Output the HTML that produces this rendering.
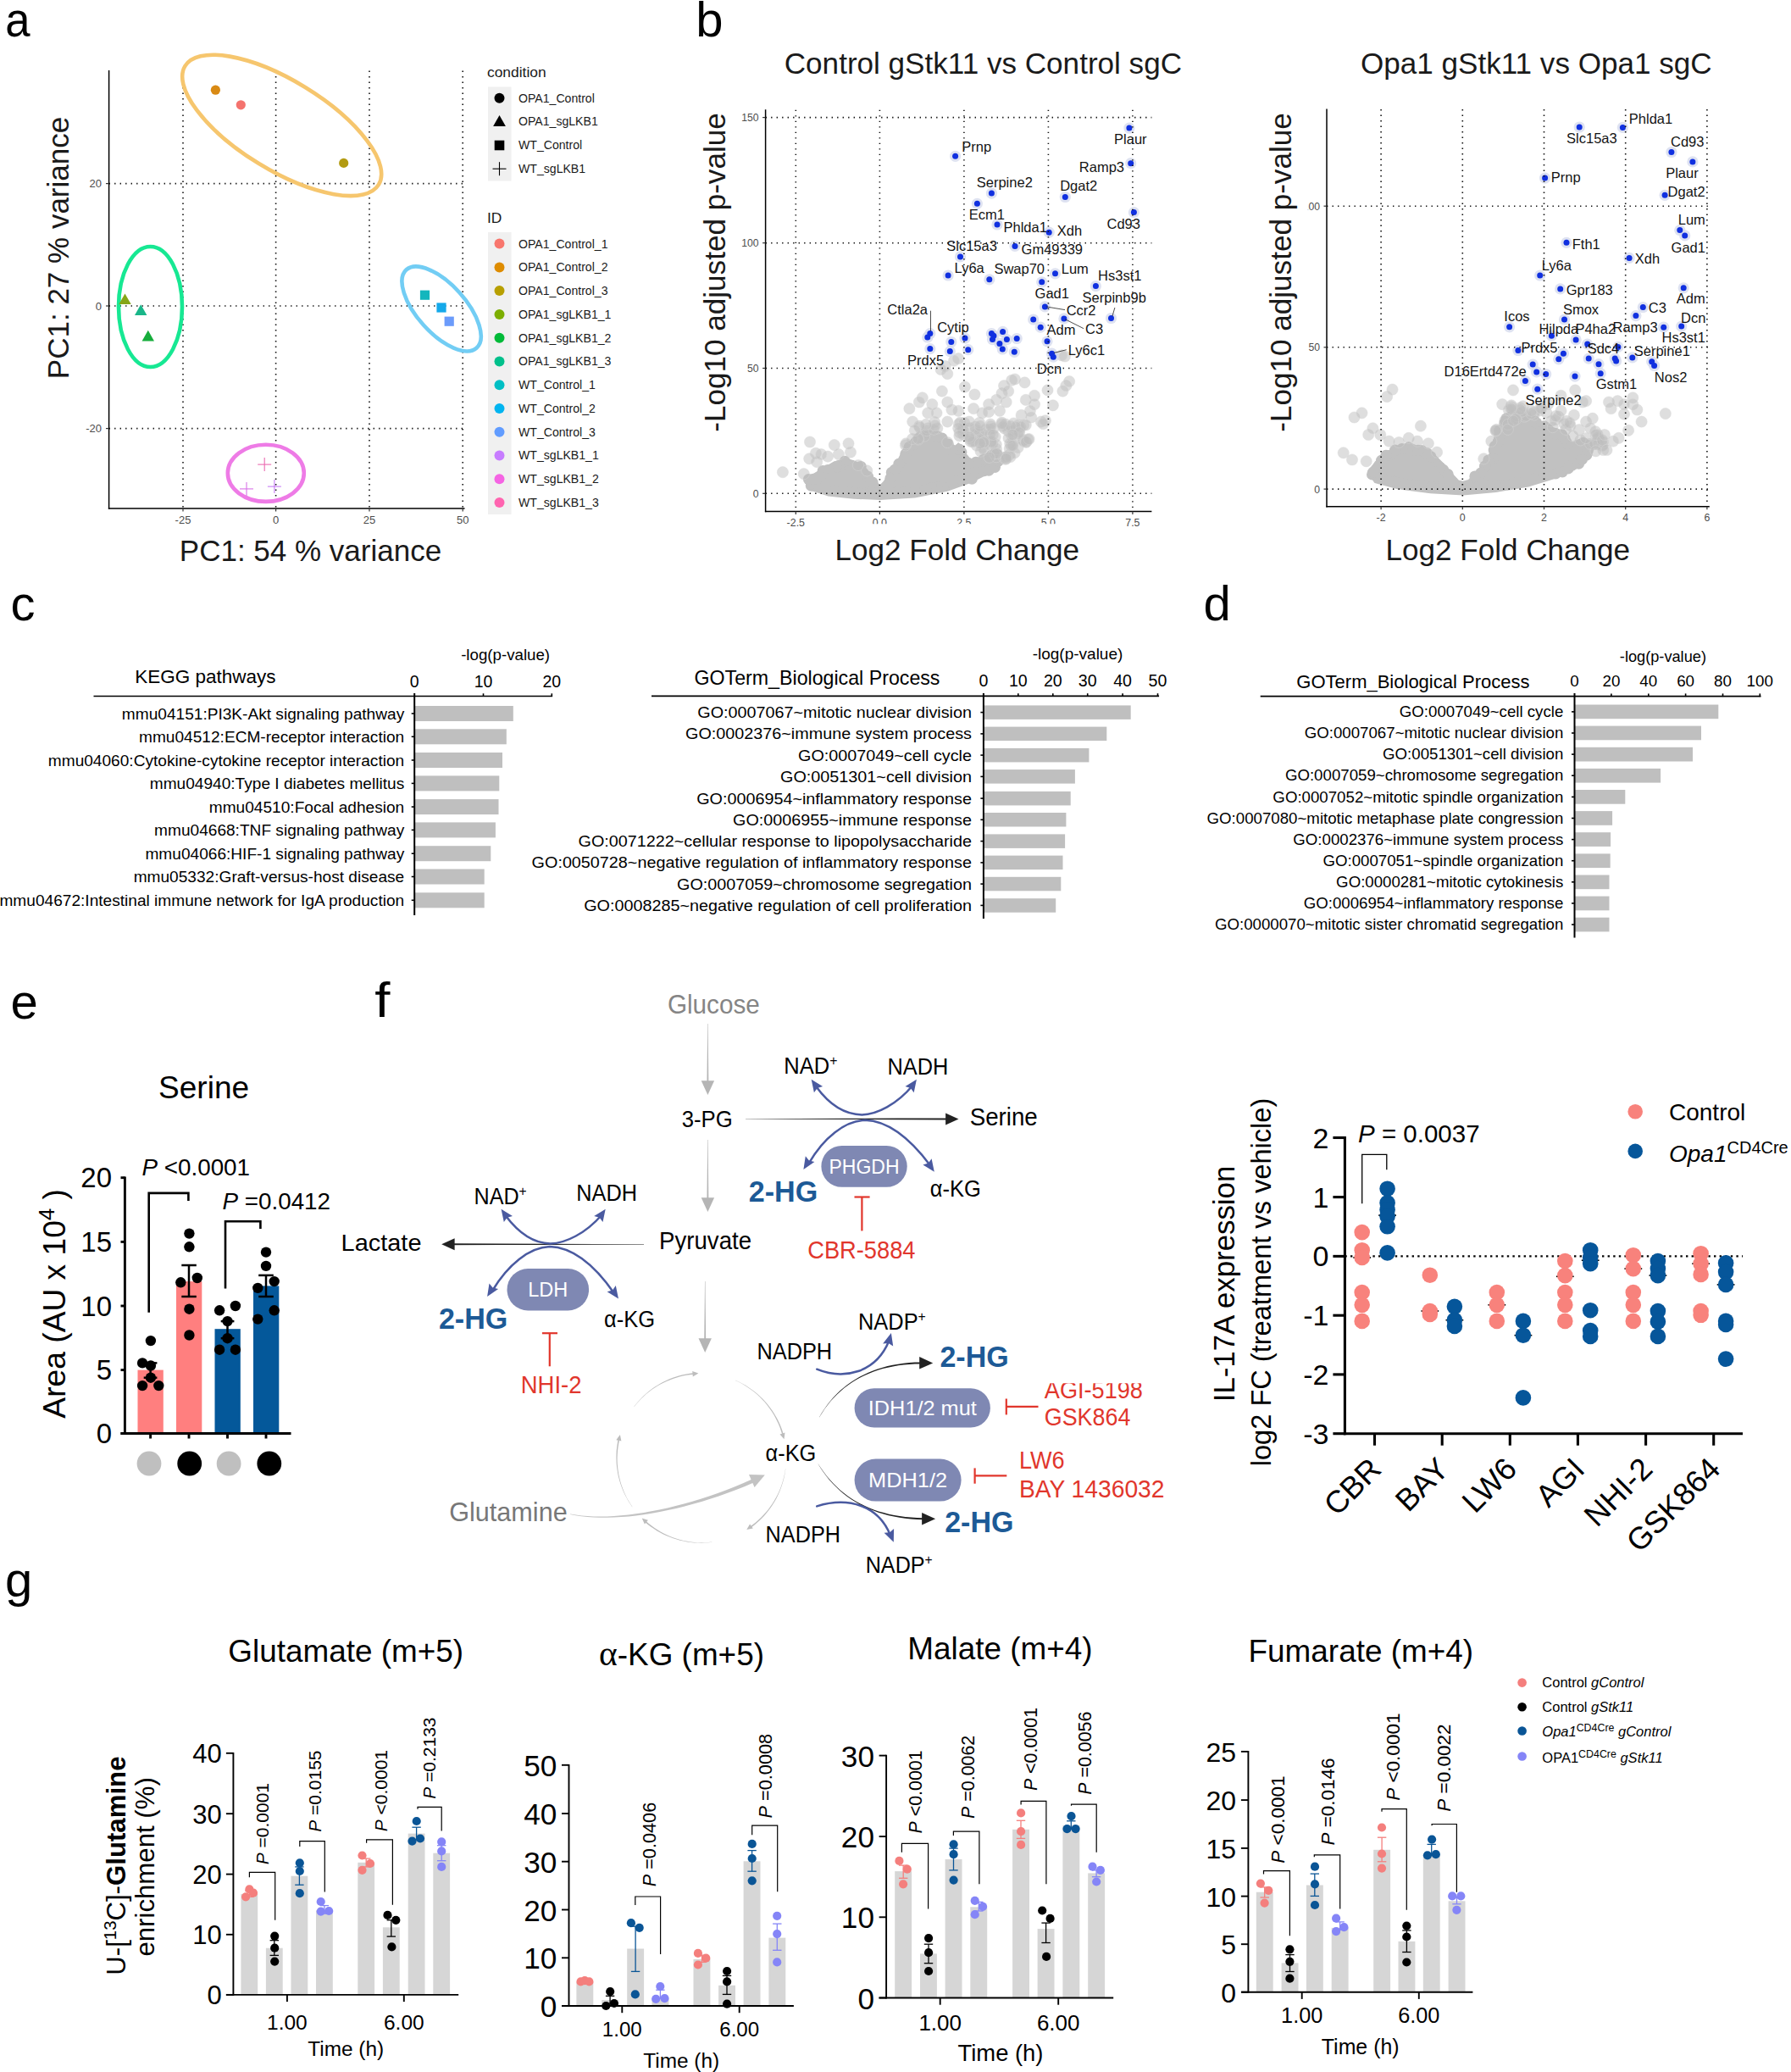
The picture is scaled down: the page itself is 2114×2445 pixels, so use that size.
<!DOCTYPE html>
<html lang="en"><head><meta charset="utf-8"><title>Figure</title>
<style>
html,body{margin:0;padding:0;background:#fff;}
body{width:2114px;height:2445px;overflow:hidden;}
svg{display:block;font-family:"Liberation Sans",Arial,Helvetica,sans-serif;}
svg text{white-space:pre;}
</style></head><body>
<svg width="2114" height="2445" viewBox="0 0 2114 2445">
<rect width="2114" height="2445" fill="#fff"/>
<g id="pa">
<text transform="translate(6.3 42.5) scale(0.92 1)" font-size="57.3">a</text>
<line x1="216" y1="83.5" x2="216" y2="600" stroke="#111" stroke-width="1.6" stroke-dasharray="1.4 5.1" stroke-linecap="butt"/>
<line x1="325.6" y1="83.5" x2="325.6" y2="600" stroke="#111" stroke-width="1.6" stroke-dasharray="1.4 5.1" stroke-linecap="butt"/>
<line x1="436" y1="83.5" x2="436" y2="600" stroke="#111" stroke-width="1.6" stroke-dasharray="1.4 5.1" stroke-linecap="butt"/>
<line x1="546.2" y1="83.5" x2="546.2" y2="600" stroke="#111" stroke-width="1.6" stroke-dasharray="1.4 5.1" stroke-linecap="butt"/>
<line x1="128.6" y1="216.6" x2="548.5" y2="216.6" stroke="#111" stroke-width="1.6" stroke-dasharray="1.4 5.1" stroke-linecap="butt"/>
<line x1="128.6" y1="361" x2="548.5" y2="361" stroke="#111" stroke-width="1.6" stroke-dasharray="1.4 5.1" stroke-linecap="butt"/>
<line x1="128.6" y1="505.6" x2="548.5" y2="505.6" stroke="#111" stroke-width="1.6" stroke-dasharray="1.4 5.1" stroke-linecap="butt"/>
<line x1="128.6" y1="83" x2="128.6" y2="600.7" stroke="#000" stroke-width="1.5"/>
<line x1="127.9" y1="600" x2="548.5" y2="600" stroke="#000" stroke-width="1.5"/>
<line x1="216" y1="600" x2="216" y2="603.5" stroke="#333" stroke-width="1.2"/>
<line x1="325.6" y1="600" x2="325.6" y2="603.5" stroke="#333" stroke-width="1.2"/>
<line x1="436" y1="600" x2="436" y2="603.5" stroke="#333" stroke-width="1.2"/>
<line x1="546.2" y1="600" x2="546.2" y2="603.5" stroke="#333" stroke-width="1.2"/>
<line x1="125" y1="216.6" x2="128.6" y2="216.6" stroke="#333" stroke-width="1.2"/>
<line x1="125" y1="361" x2="128.6" y2="361" stroke="#333" stroke-width="1.2"/>
<line x1="125" y1="505.6" x2="128.6" y2="505.6" stroke="#333" stroke-width="1.2"/>
<text x="120" y="221.2" font-size="13" text-anchor="end" fill="#4d4d4d">20</text>
<text x="120" y="365.6" font-size="13" text-anchor="end" fill="#4d4d4d">0</text>
<text x="120" y="510.2" font-size="13" text-anchor="end" fill="#4d4d4d">-20</text>
<text x="216" y="617.8" font-size="13" text-anchor="middle" fill="#4d4d4d">-25</text>
<text x="325.6" y="617.8" font-size="13" text-anchor="middle" fill="#4d4d4d">0</text>
<text x="436" y="617.8" font-size="13" text-anchor="middle" fill="#4d4d4d">25</text>
<text x="546.2" y="617.8" font-size="13" text-anchor="middle" fill="#4d4d4d">50</text>
<text x="366.5" y="662" font-size="35" text-anchor="middle" fill="#1a1a1a">PC1: 54 % variance</text>
<text transform="translate(81 292.5) rotate(-90)" font-size="35" text-anchor="middle" fill="#1a1a1a">PC1: 27 % variance</text>
<ellipse cx="332.7" cy="147.9" rx="134" ry="52.7" transform="rotate(31.5 332.7 147.9)" fill="none" stroke="#f6c66e" stroke-width="4.6"/>
<ellipse cx="177.5" cy="362" rx="37.5" ry="71" fill="none" stroke="#17e893" stroke-width="4.6"/>
<ellipse cx="521.1" cy="364.4" rx="62" ry="28.6" transform="rotate(48 521.1 364.4)" fill="none" stroke="#72cdf4" stroke-width="4.6"/>
<ellipse cx="313.8" cy="558.3" rx="45" ry="33.6" fill="none" stroke="#ee7be6" stroke-width="4.6"/>
<circle cx="254.4" cy="106.2" r="5.6" fill="#d98a14"/>
<circle cx="284.3" cy="123.8" r="5.6" fill="#f4736e"/>
<circle cx="405.7" cy="192.4" r="5.6" fill="#b39b12"/>
<path d="M147.5 346.5 L154.7 359.1 L140.3 359.1 Z" fill="#86a617"/>
<path d="M166.2 359.3 L173.4 371.9 L159 371.9 Z" fill="#19b689"/>
<path d="M174.8 389.8 L182 402.4 L167.6 402.4 Z" fill="#16ad3c"/>
<rect x="495.9" y="342.6" width="11.2" height="11.2" fill="#14b6bd"/>
<rect x="515.4" y="357.4" width="11.2" height="11.2" fill="#14a9ea"/>
<rect x="524.6" y="373.6" width="11.2" height="11.2" fill="#6b9bfb"/>
<line x1="304.2" y1="548.1" x2="320.2" y2="548.1" stroke="#ea6ab0" stroke-width="1.1"/>
<line x1="312.2" y1="540.1" x2="312.2" y2="556.1" stroke="#ea6ab0" stroke-width="1.1"/>
<line x1="283" y1="576.9" x2="299" y2="576.9" stroke="#d973e8" stroke-width="1.1"/>
<line x1="291" y1="568.9" x2="291" y2="584.9" stroke="#d973e8" stroke-width="1.1"/>
<line x1="315.9" y1="574.1" x2="331.9" y2="574.1" stroke="#c77cf5" stroke-width="1.1"/>
<line x1="323.9" y1="566.1" x2="323.9" y2="582.1" stroke="#c77cf5" stroke-width="1.1"/>
<text x="575" y="91" font-size="17.4" fill="#1a1a1a">condition</text>
<rect x="576" y="102.5" width="27.5" height="111" fill="#f0f0f0"/>
<circle cx="589.5" cy="115.7" r="6" fill="#000"/>
<path d="M589.5 135.9 L596.9 148.9 L582.1 148.9 Z" fill="#000"/>
<rect x="583.7" y="165.7" width="11.6" height="11.6" fill="#000"/>
<line x1="581.5" y1="199.2" x2="597.5" y2="199.2" stroke="#000" stroke-width="1.1"/>
<line x1="589.5" y1="191.2" x2="589.5" y2="207.2" stroke="#000" stroke-width="1.1"/>
<text x="612" y="120.6" font-size="14.1" fill="#1a1a1a">OPA1_Control</text>
<text x="612" y="148.3" font-size="14.1" fill="#1a1a1a">OPA1_sgLKB1</text>
<text x="612" y="176.4" font-size="14.1" fill="#1a1a1a">WT_Control</text>
<text x="612" y="204.1" font-size="14.1" fill="#1a1a1a">WT_sgLKB1</text>
<text x="575" y="262.5" font-size="17.4" fill="#1a1a1a">ID</text>
<rect x="576" y="274" width="27.5" height="333" fill="#f0f0f0"/>
<circle cx="589.5" cy="287.6" r="6" fill="#f8766d"/>
<text x="612" y="292.5" font-size="14.1" fill="#1a1a1a">OPA1_Control_1</text>
<circle cx="589.5" cy="315.4" r="6" fill="#de8c00"/>
<text x="612" y="320.3" font-size="14.1" fill="#1a1a1a">OPA1_Control_2</text>
<circle cx="589.5" cy="343.1" r="6" fill="#b79f00"/>
<text x="612" y="348" font-size="14.1" fill="#1a1a1a">OPA1_Control_3</text>
<circle cx="589.5" cy="370.9" r="6" fill="#7cae00"/>
<text x="612" y="375.8" font-size="14.1" fill="#1a1a1a">OPA1_sgLKB1_1</text>
<circle cx="589.5" cy="398.7" r="6" fill="#00ba38"/>
<text x="612" y="403.6" font-size="14.1" fill="#1a1a1a">OPA1_sgLKB1_2</text>
<circle cx="589.5" cy="426.5" r="6" fill="#00c08b"/>
<text x="612" y="431.4" font-size="14.1" fill="#1a1a1a">OPA1_sgLKB1_3</text>
<circle cx="589.5" cy="454.2" r="6" fill="#00bfc4"/>
<text x="612" y="459.1" font-size="14.1" fill="#1a1a1a">WT_Control_1</text>
<circle cx="589.5" cy="482" r="6" fill="#00b4f0"/>
<text x="612" y="486.9" font-size="14.1" fill="#1a1a1a">WT_Control_2</text>
<circle cx="589.5" cy="509.8" r="6" fill="#619cff"/>
<text x="612" y="514.7" font-size="14.1" fill="#1a1a1a">WT_Control_3</text>
<circle cx="589.5" cy="537.5" r="6" fill="#c77cff"/>
<text x="612" y="542.4" font-size="14.1" fill="#1a1a1a">WT_sgLKB1_1</text>
<circle cx="589.5" cy="565.3" r="6" fill="#f564e3"/>
<text x="612" y="570.2" font-size="14.1" fill="#1a1a1a">WT_sgLKB1_2</text>
<circle cx="589.5" cy="593.1" r="6" fill="#ff64b0"/>
<text x="612" y="598" font-size="14.1" fill="#1a1a1a">WT_sgLKB1_3</text>
</g>
<g id="pb">
<text x="821.3" y="43" font-size="58">b</text>
<path d="M950.1 565.7 L955.2 577.2 L977.1 584.4 L1007.9 587.7 L1038.7 589 L1079.8 586.5 L1118.3 578.8 L1146.6 568.5 L1167.1 558.2 L1181.2 549 L1182.5 538.7 L1177.4 531 L1169.7 534.8 L1156.8 540 L1146.6 543.8 L1138.9 534.8 L1131.2 523.3 L1126 529.7 L1115.7 516.9 L1105.5 509.9 L1092.6 509.9 L1079.8 515.1 L1066.9 529.7 L1059.2 545.1 L1051.5 555.4 L1043.8 568.2 L1038.7 573.6 L1033.6 568.2 L1025.9 558 L1018.1 549 L1007.9 544.3 L997.6 541.8 L984.8 545.4 L971.9 552.8 L959.1 560.5Z" fill="#c1c1c1" stroke="#c1c1c1" stroke-width="2" stroke-linejoin="round"/>
<g fill="#c1c1c1"><circle cx="954.5" cy="565.6" r="6.6"/><circle cx="957.4" cy="573.2" r="6.6"/><circle cx="959.5" cy="571.7" r="6.6"/><circle cx="967.1" cy="574.2" r="6.6"/><circle cx="972.6" cy="576" r="6.6"/><circle cx="979.7" cy="578.1" r="6.6"/><circle cx="986.3" cy="578.8" r="6.6"/><circle cx="993" cy="579.5" r="6.6"/><circle cx="996.6" cy="579.9" r="6.6"/><circle cx="1003.5" cy="580.6" r="6.6"/><circle cx="1008.5" cy="581.2" r="6.6"/><circle cx="1017.3" cy="581.5" r="6.6"/><circle cx="1023" cy="581.8" r="6.6"/><circle cx="1026.8" cy="581.9" r="6.6"/><circle cx="1036.4" cy="582.3" r="6.6"/><circle cx="1042.2" cy="582.2" r="6.6"/><circle cx="1047.8" cy="581.8" r="6.6"/><circle cx="1054.5" cy="581.4" r="6.6"/><circle cx="1059.5" cy="581.1" r="6.6"/><circle cx="1065.7" cy="580.7" r="6.6"/><circle cx="1074.7" cy="580.2" r="6.6"/><circle cx="1078.7" cy="579.9" r="6.6"/><circle cx="1085.6" cy="578.6" r="6.6"/><circle cx="1092.3" cy="577.2" r="6.6"/><circle cx="1097.9" cy="576.1" r="6.6"/><circle cx="1106" cy="574.5" r="6.6"/><circle cx="1112.3" cy="573.2" r="6.6"/><circle cx="1118.9" cy="571.5" r="6.6"/><circle cx="1123.5" cy="569.9" r="6.6"/><circle cx="1129.5" cy="567.7" r="6.6"/><circle cx="1134.7" cy="565.8" r="6.6"/><circle cx="1140.9" cy="563.5" r="6.6"/><circle cx="1147.2" cy="565.1" r="6.6"/><circle cx="1154.8" cy="557.7" r="6.6"/><circle cx="1161.6" cy="555.7" r="6.6"/><circle cx="1167.1" cy="555.2" r="6.6"/><circle cx="1174.4" cy="551.3" r="6.6"/><circle cx="1178.6" cy="543.8" r="6.6"/><circle cx="1177.2" cy="536.6" r="6.6"/><circle cx="1175.3" cy="538" r="6.6"/><circle cx="1170.6" cy="537.1" r="6.6"/><circle cx="1161.1" cy="542.2" r="6.6"/><circle cx="1151.9" cy="545.3" r="6.6"/><circle cx="1142.9" cy="546.3" r="6.6"/><circle cx="1134.8" cy="533.6" r="6.6"/><circle cx="1132.3" cy="530.4" r="6.6"/><circle cx="1132" cy="530.1" r="6.6"/><circle cx="1123.6" cy="530.9" r="6.6"/><circle cx="1119.2" cy="524" r="6.6"/><circle cx="1112" cy="517.1" r="6.6"/><circle cx="1106.9" cy="515.1" r="6.6"/><circle cx="1104.7" cy="514.7" r="6.6"/><circle cx="1098.5" cy="514.3" r="6.6"/><circle cx="1093.4" cy="513.3" r="6.6"/><circle cx="1086.4" cy="515.3" r="6.6"/><circle cx="1081.1" cy="521.3" r="6.6"/><circle cx="1078.8" cy="524.4" r="6.6"/><circle cx="1073.1" cy="527.6" r="6.6"/><circle cx="1068.9" cy="535.6" r="6.6"/><circle cx="1068.2" cy="540.5" r="6.6"/><circle cx="1060.9" cy="547.4" r="6.6"/><circle cx="1056" cy="554.4" r="6.6"/><circle cx="1052.4" cy="557.5" r="6.6"/><circle cx="1051" cy="564.3" r="6.6"/><circle cx="1047.9" cy="573.6" r="6.6"/><circle cx="1032.1" cy="576.2" r="6.6"/><circle cx="1029.9" cy="569.2" r="6.6"/><circle cx="1024.5" cy="562.3" r="6.6"/><circle cx="1019.1" cy="558.4" r="6.6"/><circle cx="1016.1" cy="550.5" r="6.6"/><circle cx="1001" cy="548" r="6.6"/><circle cx="997.3" cy="544.3" r="6.6"/><circle cx="989.9" cy="549.9" r="6.6"/><circle cx="986.9" cy="550.8" r="6.6"/><circle cx="977.1" cy="554.7" r="6.6"/><circle cx="971.3" cy="555.5" r="6.6"/><circle cx="968.3" cy="561.8" r="6.6"/><circle cx="960.1" cy="565.3" r="6.6"/></g>
<g fill="#bdbdbd" fill-opacity="0.5" stroke="#d9d9d9" stroke-opacity="0.55" stroke-width="0.8">
<circle cx="1154.8" cy="511.2" r="6.6"/><circle cx="1157.5" cy="510.6" r="6.6"/><circle cx="1203.4" cy="507" r="6.6"/><circle cx="1131.9" cy="500.4" r="6.6"/><circle cx="1091.1" cy="514.6" r="6.6"/><circle cx="1151.1" cy="503.7" r="6.6"/><circle cx="1169.1" cy="524.6" r="6.6"/><circle cx="1176.1" cy="539.2" r="6.6"/><circle cx="1176.1" cy="530.1" r="6.6"/><circle cx="1184.6" cy="539.9" r="6.6"/><circle cx="1195.2" cy="524.1" r="6.6"/><circle cx="1159.1" cy="515.3" r="6.6"/><circle cx="1152.7" cy="525.7" r="6.6"/><circle cx="1174.7" cy="515.6" r="6.6"/><circle cx="1175.8" cy="524.5" r="6.6"/><circle cx="1068.9" cy="525.4" r="6.6"/><circle cx="1137.3" cy="508.2" r="6.6"/><circle cx="1170.2" cy="520.6" r="6.6"/><circle cx="1103.1" cy="498.1" r="6.6"/><circle cx="1095.1" cy="505.4" r="6.6"/><circle cx="1201.6" cy="528.1" r="6.6"/><circle cx="1186.5" cy="539.9" r="6.6"/><circle cx="1197.8" cy="515.4" r="6.6"/><circle cx="1152.7" cy="512.2" r="6.6"/><circle cx="1191.2" cy="536.8" r="6.6"/><circle cx="1106.3" cy="505.4" r="6.6"/><circle cx="1132.7" cy="510.3" r="6.6"/><circle cx="1159.2" cy="520.4" r="6.6"/><circle cx="1213.2" cy="518.5" r="6.6"/><circle cx="1196.6" cy="499.5" r="6.6"/><circle cx="1171.8" cy="524" r="6.6"/><circle cx="1133.3" cy="498.7" r="6.6"/><circle cx="1190.1" cy="508.6" r="6.6"/><circle cx="1159.7" cy="518.2" r="6.6"/><circle cx="1159.8" cy="527.9" r="6.6"/><circle cx="1186.7" cy="541.9" r="6.6"/><circle cx="1168.1" cy="506.8" r="6.6"/><circle cx="1136.4" cy="505.9" r="6.6"/><circle cx="1172.6" cy="505.9" r="6.6"/><circle cx="1170" cy="521.7" r="6.6"/><circle cx="1157.5" cy="532.6" r="6.6"/><circle cx="1201.7" cy="501.6" r="6.6"/><circle cx="1084.1" cy="518.6" r="6.6"/><circle cx="1197.6" cy="534.4" r="6.6"/><circle cx="1207.5" cy="519" r="6.6"/><circle cx="1163.1" cy="507.1" r="6.6"/><circle cx="1173.8" cy="535.4" r="6.6"/><circle cx="1161.6" cy="530.8" r="6.6"/><circle cx="1194.1" cy="513.7" r="6.6"/><circle cx="1076.9" cy="518" r="6.6"/><circle cx="1138.2" cy="498.9" r="6.6"/><circle cx="1187" cy="500.6" r="6.6"/><circle cx="1185.6" cy="505.6" r="6.6"/><circle cx="1085.7" cy="504.5" r="6.6"/><circle cx="1191.7" cy="529.5" r="6.6"/><circle cx="1207.7" cy="520.4" r="6.6"/><circle cx="1208.2" cy="501.6" r="6.6"/><circle cx="1161.2" cy="521.8" r="6.6"/><circle cx="1192.2" cy="523.5" r="6.6"/><circle cx="1192.5" cy="539.2" r="6.6"/><circle cx="1211.1" cy="521.8" r="6.6"/><circle cx="1151.2" cy="506.9" r="6.6"/><circle cx="1145.6" cy="520.9" r="6.6"/><circle cx="1156.1" cy="498.9" r="6.6"/><circle cx="1211.3" cy="521.5" r="6.6"/><circle cx="1149.7" cy="520.3" r="6.6"/><circle cx="1169.1" cy="500.6" r="6.6"/><circle cx="1146" cy="516.7" r="6.6"/><circle cx="1083.6" cy="517.6" r="6.6"/><circle cx="1188" cy="539.2" r="6.6"/><circle cx="1136.6" cy="512.3" r="6.6"/><circle cx="1204.6" cy="503.6" r="6.6"/><circle cx="1182.5" cy="498.7" r="6.6"/><circle cx="1093.8" cy="508.1" r="6.6"/><circle cx="1168.5" cy="512.5" r="6.6"/><circle cx="1102.3" cy="506.7" r="6.6"/><circle cx="1144.7" cy="517.8" r="6.6"/><circle cx="1144.6" cy="505" r="6.6"/><circle cx="1161.1" cy="522.1" r="6.6"/><circle cx="1193.4" cy="525.9" r="6.6"/><circle cx="1194.2" cy="508.4" r="6.6"/><circle cx="1176.6" cy="535.1" r="6.6"/><circle cx="1201.2" cy="512.2" r="6.6"/><circle cx="1198.9" cy="503.8" r="6.6"/><circle cx="1103.7" cy="502.1" r="6.6"/><circle cx="1190.5" cy="517.1" r="6.6"/><circle cx="1184.1" cy="503.4" r="6.6"/><circle cx="1167.8" cy="539.7" r="6.6"/><circle cx="1093" cy="500.9" r="6.6"/><circle cx="1148" cy="521.4" r="6.6"/><circle cx="923.9" cy="557.2" r="6.6"/><circle cx="948.8" cy="559.2" r="6.6"/><circle cx="956" cy="521.5" r="6.6"/><circle cx="962.9" cy="534.8" r="6.6"/><circle cx="964.2" cy="545.1" r="6.6"/><circle cx="984.8" cy="525.1" r="6.6"/><circle cx="989.9" cy="536.1" r="6.6"/><circle cx="1001.5" cy="523.3" r="6.6"/><circle cx="1004" cy="533.6" r="6.6"/><circle cx="977.1" cy="538.7" r="6.6"/><circle cx="1013" cy="549" r="6.6"/><circle cx="1023.3" cy="555.4" r="6.6"/><circle cx="969.3" cy="536.1" r="6.6"/><circle cx="955.2" cy="541.3" r="6.6"/><circle cx="1073.4" cy="482.2" r="6.6"/><circle cx="1077.2" cy="497.6" r="6.6"/><circle cx="1088.8" cy="469.3" r="6.6"/><circle cx="1095.2" cy="487.3" r="6.6"/><circle cx="1084.9" cy="502.7" r="6.6"/><circle cx="1111.9" cy="461.6" r="6.6"/><circle cx="1118.3" cy="474.5" r="6.6"/><circle cx="1123.4" cy="483.5" r="6.6"/><circle cx="1118.3" cy="497.6" r="6.6"/><circle cx="1138.9" cy="456.5" r="6.6"/><circle cx="1150.4" cy="465.5" r="6.6"/><circle cx="1149.1" cy="482.2" r="6.6"/><circle cx="1144" cy="497.6" r="6.6"/><circle cx="1167.1" cy="477.1" r="6.6"/><circle cx="1167.1" cy="486" r="6.6"/><circle cx="1176.1" cy="471.9" r="6.6"/><circle cx="1182.5" cy="464.2" r="6.6"/><circle cx="1185.1" cy="455.2" r="6.6"/><circle cx="1194.1" cy="448.8" r="6.6"/><circle cx="1197.9" cy="447.5" r="6.6"/><circle cx="1209.5" cy="451.4" r="6.6"/><circle cx="1190.2" cy="461.6" r="6.6"/><circle cx="1187.7" cy="474.5" r="6.6"/><circle cx="1180" cy="484.8" r="6.6"/><circle cx="1205.6" cy="489.9" r="6.6"/><circle cx="1210.8" cy="471.9" r="6.6"/><circle cx="1221" cy="466.8" r="6.6"/><circle cx="1221" cy="477.1" r="6.6"/><circle cx="1215.9" cy="484.8" r="6.6"/><circle cx="1217.2" cy="492.5" r="6.6"/><circle cx="1210.8" cy="501.5" r="6.6"/><circle cx="1228.8" cy="497.6" r="6.6"/><circle cx="1233.9" cy="496.3" r="6.6"/><circle cx="1236.5" cy="460.4" r="6.6"/><circle cx="1242.9" cy="478.3" r="6.6"/><circle cx="1254.4" cy="461.6" r="6.6"/><circle cx="1258.3" cy="455.2" r="6.6"/><circle cx="1262.1" cy="450.1" r="6.6"/><circle cx="1257" cy="420.5" r="6.6"/><circle cx="1131.2" cy="423.1" r="6.6"/><circle cx="1118.3" cy="441.1" r="6.6"/><circle cx="1115.7" cy="432.1" r="6.6"/><circle cx="1214.6" cy="518.1" r="6.6"/><circle cx="1195.4" cy="525.9" r="6.6"/><circle cx="1187.7" cy="541.3" r="6.6"/><circle cx="1203.1" cy="510.4" r="6.6"/><circle cx="1192.8" cy="502.7" r="6.6"/><circle cx="1182.5" cy="500.2" r="6.6"/><circle cx="1169.7" cy="502.7" r="6.6"/><circle cx="1156.8" cy="502.7" r="6.6"/><circle cx="1156.8" cy="523.3" r="6.6"/><circle cx="1144" cy="515.6" r="6.6"/><circle cx="1131.2" cy="505.3" r="6.6"/><circle cx="1132.4" cy="514.3" r="6.6"/><circle cx="1118.3" cy="522" r="6.6"/><circle cx="1069.5" cy="523.3" r="6.6"/><circle cx="1079.8" cy="507.9" r="6.6"/><circle cx="1100.3" cy="477.1" r="6.6"/><circle cx="1105.5" cy="487.3" r="6.6"/><circle cx="1131.2" cy="484.8" r="6.6"/><circle cx="1159.4" cy="487.3" r="6.6"/><circle cx="1172.2" cy="513" r="6.6"/><circle cx="1195.4" cy="513" r="6.6"/><circle cx="1231.3" cy="500.2" r="6.6"/><circle cx="1084.9" cy="474.5" r="6.6"/><circle cx="1253.2" cy="419.3" r="6.6"/><circle cx="1126" cy="425.7" r="6.6"/><circle cx="1110.6" cy="436" r="6.6"/>
</g>
<g fill="#d3d8ec" fill-opacity="0.75">
<circle cx="1332.9" cy="151.1" r="6.6"/><circle cx="1334.7" cy="192.7" r="6.6"/><circle cx="1127.6" cy="184.3" r="6.6"/><circle cx="1170.4" cy="228.1" r="6.6"/><circle cx="1153.4" cy="240.3" r="6.6"/><circle cx="1257.3" cy="232.5" r="6.6"/><circle cx="1338.4" cy="250.6" r="6.6"/><circle cx="1177" cy="265" r="6.6"/><circle cx="1238.2" cy="274.2" r="6.6"/><circle cx="1198" cy="290.4" r="6.6"/><circle cx="1133.5" cy="302.9" r="6.6"/><circle cx="1119.1" cy="325" r="6.6"/><circle cx="1167.8" cy="329.8" r="6.6"/><circle cx="1245.5" cy="322.8" r="6.6"/><circle cx="1229.7" cy="332.8" r="6.6"/><circle cx="1293.4" cy="337.6" r="6.6"/><circle cx="1233.4" cy="361.9" r="6.6"/><circle cx="1311.5" cy="375.5" r="6.6"/><circle cx="1255.9" cy="375.9" r="6.6"/><circle cx="1228.2" cy="386.2" r="6.6"/><circle cx="1219.7" cy="377" r="6.6"/><circle cx="1097.8" cy="393.6" r="6.6"/><circle cx="1094.8" cy="398" r="6.6"/><circle cx="1122.8" cy="403.5" r="6.6"/><circle cx="1139" cy="399.1" r="6.6"/><circle cx="1097.8" cy="411.6" r="6.6"/><circle cx="1121.3" cy="414.6" r="6.6"/><circle cx="1142.7" cy="412.7" r="6.6"/><circle cx="1170.4" cy="393.6" r="6.6"/><circle cx="1172.9" cy="396.2" r="6.6"/><circle cx="1183.6" cy="391.4" r="6.6"/><circle cx="1171.5" cy="400.6" r="6.6"/><circle cx="1188.4" cy="400.6" r="6.6"/><circle cx="1200.2" cy="399.5" r="6.6"/><circle cx="1179.9" cy="405.4" r="6.6"/><circle cx="1183.3" cy="412" r="6.6"/><circle cx="1197.3" cy="415.3" r="6.6"/><circle cx="1236" cy="402.8" r="6.6"/><circle cx="1241.5" cy="417.2" r="6.6"/><circle cx="1243.3" cy="421.2" r="6.6"/>
</g>
<g fill="#1030e0">
<circle cx="1332.9" cy="151.1" r="3.5"/><circle cx="1334.7" cy="192.7" r="3.5"/><circle cx="1127.6" cy="184.3" r="3.5"/><circle cx="1170.4" cy="228.1" r="3.5"/><circle cx="1153.4" cy="240.3" r="3.5"/><circle cx="1257.3" cy="232.5" r="3.5"/><circle cx="1338.4" cy="250.6" r="3.5"/><circle cx="1177" cy="265" r="3.5"/><circle cx="1238.2" cy="274.2" r="3.5"/><circle cx="1198" cy="290.4" r="3.5"/><circle cx="1133.5" cy="302.9" r="3.5"/><circle cx="1119.1" cy="325" r="3.5"/><circle cx="1167.8" cy="329.8" r="3.5"/><circle cx="1245.5" cy="322.8" r="3.5"/><circle cx="1229.7" cy="332.8" r="3.5"/><circle cx="1293.4" cy="337.6" r="3.5"/><circle cx="1233.4" cy="361.9" r="3.5"/><circle cx="1311.5" cy="375.5" r="3.5"/><circle cx="1255.9" cy="375.9" r="3.5"/><circle cx="1228.2" cy="386.2" r="3.5"/><circle cx="1219.7" cy="377" r="3.5"/><circle cx="1097.8" cy="393.6" r="3.5"/><circle cx="1094.8" cy="398" r="3.5"/><circle cx="1122.8" cy="403.5" r="3.5"/><circle cx="1139" cy="399.1" r="3.5"/><circle cx="1097.8" cy="411.6" r="3.5"/><circle cx="1121.3" cy="414.6" r="3.5"/><circle cx="1142.7" cy="412.7" r="3.5"/><circle cx="1170.4" cy="393.6" r="3.5"/><circle cx="1172.9" cy="396.2" r="3.5"/><circle cx="1183.6" cy="391.4" r="3.5"/><circle cx="1171.5" cy="400.6" r="3.5"/><circle cx="1188.4" cy="400.6" r="3.5"/><circle cx="1200.2" cy="399.5" r="3.5"/><circle cx="1179.9" cy="405.4" r="3.5"/><circle cx="1183.3" cy="412" r="3.5"/><circle cx="1197.3" cy="415.3" r="3.5"/><circle cx="1236" cy="402.8" r="3.5"/><circle cx="1241.5" cy="417.2" r="3.5"/><circle cx="1243.3" cy="421.2" r="3.5"/>
</g>
<line x1="1098.5" y1="366.7" x2="1098.5" y2="390.6" stroke="#222" stroke-width="0.8"/>
<line x1="1234.8" y1="361.9" x2="1257" y2="365.6" stroke="#222" stroke-width="0.8"/>
<line x1="1257" y1="376.6" x2="1279.1" y2="387.7" stroke="#222" stroke-width="0.8"/>
<line x1="1244.1" y1="416.4" x2="1258.8" y2="412.7" stroke="#222" stroke-width="0.8"/>
<line x1="1315.9" y1="363" x2="1313" y2="372.9" stroke="#222" stroke-width="0.8"/>
<g font-size="16.5" text-anchor="middle" fill="#141414">
<text x="1334.3" y="170.1">Plaur</text><text x="1152.7" y="178.9">Prnp</text><text x="1300.4" y="203.2">Ramp3</text><text x="1185.8" y="220.9">Serpine2</text><text x="1273.2" y="225.3">Dgat2</text><text x="1164.8" y="258.5">Ecm1</text><text x="1210.2" y="273.6">Phlda1</text><text x="1262.5" y="277.7">Xdh</text><text x="1326.2" y="269.6">Cd93</text><text x="1147.1" y="295.7">Slc15a3</text><text x="1241.8" y="300.1">Gm49339</text><text x="1144.2" y="322.3">Ly6a</text><text x="1203.2" y="323.4">Swap70</text><text x="1268.8" y="323">Lum</text><text x="1321.8" y="331.1">Hs3st1</text><text x="1241.8" y="352.1">Gad1</text><text x="1315.2" y="357.3">Serpinb9b</text><text x="1071.2" y="370.5">Ctla2a</text><text x="1276.1" y="372.4">Ccr2</text><text x="1125" y="392.3">Cytip</text><text x="1252.5" y="395.2">Adm</text><text x="1291.6" y="394.1">C3</text><text x="1282.4" y="418.8">Ly6c1</text><text x="1092.6" y="431.3">Prdx5</text><text x="1238.5" y="440.9">Dcn</text>
</g>
<line x1="939.3" y1="129.7" x2="939.3" y2="603.6" stroke="#111" stroke-width="1.6" stroke-dasharray="1.4 5.1"/>
<line x1="1038.4" y1="129.7" x2="1038.4" y2="603.6" stroke="#111" stroke-width="1.6" stroke-dasharray="1.4 5.1"/>
<line x1="1137.9" y1="129.7" x2="1137.9" y2="603.6" stroke="#111" stroke-width="1.6" stroke-dasharray="1.4 5.1"/>
<line x1="1237.4" y1="129.7" x2="1237.4" y2="603.6" stroke="#111" stroke-width="1.6" stroke-dasharray="1.4 5.1"/>
<line x1="1336.9" y1="129.7" x2="1336.9" y2="603.6" stroke="#111" stroke-width="1.6" stroke-dasharray="1.4 5.1"/>
<line x1="903.6" y1="138.6" x2="1359.4" y2="138.6" stroke="#111" stroke-width="1.6" stroke-dasharray="1.4 5.1"/>
<line x1="903.6" y1="286.7" x2="1359.4" y2="286.7" stroke="#111" stroke-width="1.6" stroke-dasharray="1.4 5.1"/>
<line x1="903.6" y1="434.5" x2="1359.4" y2="434.5" stroke="#111" stroke-width="1.6" stroke-dasharray="1.4 5.1"/>
<line x1="903.6" y1="582.3" x2="1359.4" y2="582.3" stroke="#111" stroke-width="1.6" stroke-dasharray="1.4 5.1"/>
<line x1="903.6" y1="129.2" x2="903.6" y2="604.3" stroke="#000" stroke-width="1.5"/>
<line x1="902.9" y1="603.6" x2="1359.4" y2="603.6" stroke="#000" stroke-width="1.5"/>
<line x1="939.3" y1="603.6" x2="939.3" y2="607.1" stroke="#333" stroke-width="1.2"/>
<line x1="1038.4" y1="603.6" x2="1038.4" y2="607.1" stroke="#333" stroke-width="1.2"/>
<line x1="1137.9" y1="603.6" x2="1137.9" y2="607.1" stroke="#333" stroke-width="1.2"/>
<line x1="1237.4" y1="603.6" x2="1237.4" y2="607.1" stroke="#333" stroke-width="1.2"/>
<line x1="1336.9" y1="603.6" x2="1336.9" y2="607.1" stroke="#333" stroke-width="1.2"/>
<line x1="900.1" y1="138.6" x2="903.6" y2="138.6" stroke="#333" stroke-width="1.2"/>
<line x1="900.1" y1="286.7" x2="903.6" y2="286.7" stroke="#333" stroke-width="1.2"/>
<line x1="900.1" y1="434.5" x2="903.6" y2="434.5" stroke="#333" stroke-width="1.2"/>
<line x1="900.1" y1="582.3" x2="903.6" y2="582.3" stroke="#333" stroke-width="1.2"/>
<clipPath id="clipy800"><rect x="863.6" y="100" width="40" height="520"/></clipPath>
<text x="895.6" y="143" font-size="12.2" text-anchor="end" fill="#4d4d4d" clip-path="url(#clipy800)">150</text>
<text x="895.6" y="291.1" font-size="12.2" text-anchor="end" fill="#4d4d4d" clip-path="url(#clipy800)">100</text>
<text x="895.6" y="438.9" font-size="12.2" text-anchor="end" fill="#4d4d4d" clip-path="url(#clipy800)">50</text>
<text x="895.6" y="586.7" font-size="12.2" text-anchor="end" fill="#4d4d4d" clip-path="url(#clipy800)">0</text>
<clipPath id="clip800"><rect x="863.6" y="603.6" width="600" height="14.7"/></clipPath>
<text x="939.3" y="620.6" font-size="12.4" text-anchor="middle" fill="#4d4d4d">-2.5</text>
<text x="1038.4" y="620.6" font-size="12.4" text-anchor="middle" fill="#4d4d4d" clip-path="url(#clip800)">0.0</text>
<text x="1137.9" y="620.6" font-size="12.4" text-anchor="middle" fill="#4d4d4d" clip-path="url(#clip800)">2.5</text>
<text x="1237.4" y="620.6" font-size="12.4" text-anchor="middle" fill="#4d4d4d" clip-path="url(#clip800)">5.0</text>
<text x="1336.9" y="620.6" font-size="12.4" text-anchor="middle" fill="#4d4d4d">7.5</text>
<text x="1160.4" y="87.2" font-size="35.1" text-anchor="middle" fill="#1a1a1a">Control gStk11 vs Control sgC</text>
<text x="1129.8" y="660.5" font-size="35.1" text-anchor="middle" fill="#1a1a1a">Log2 Fold Change</text>
<text transform="translate(855.8 321.5) rotate(-90)" font-size="35.1" text-anchor="middle" fill="#1a1a1a">-Log10 adjusted p-value</text>
<path d="M1616.5 559.2 L1622.9 569 L1649.9 576.2 L1688.4 581.3 L1726.9 583.4 L1765.5 580 L1804 573.6 L1837.4 563.3 L1863.1 551 L1878.5 537.4 L1877.2 525.3 L1865.6 518.7 L1855.4 522.3 L1847.7 509.9 L1832.2 504.8 L1819.4 499.7 L1814.3 491.9 L1801.4 494.5 L1791.2 489.4 L1778.3 489.4 L1769.3 504 L1764.2 516.9 L1759 534.8 L1751.3 547.7 L1741.1 559.8 L1733.4 566.9 L1726.9 568.7 L1721.3 567.5 L1714.1 559.8 L1703.8 547.7 L1693.6 537.7 L1680.7 530.5 L1662.7 526.4 L1647.3 528.9 L1634.5 535.1 L1624.2 545.1 L1617.8 552.8Z" fill="#c1c1c1" stroke="#c1c1c1" stroke-width="2" stroke-linejoin="round"/>
<g fill="#c1c1c1"><circle cx="1619.6" cy="559.9" r="6.6"/><circle cx="1627.3" cy="563.3" r="6.6"/><circle cx="1631.7" cy="564.5" r="6.6"/><circle cx="1640.3" cy="566.8" r="6.6"/><circle cx="1646.3" cy="568.4" r="6.6"/><circle cx="1651" cy="569.7" r="6.6"/><circle cx="1659.1" cy="570.8" r="6.6"/><circle cx="1663.8" cy="571.4" r="6.6"/><circle cx="1671.7" cy="572.4" r="6.6"/><circle cx="1676.7" cy="573.1" r="6.6"/><circle cx="1683.2" cy="574" r="6.6"/><circle cx="1690.4" cy="574.8" r="6.6"/><circle cx="1698.4" cy="575.2" r="6.6"/><circle cx="1702.1" cy="575.4" r="6.6"/><circle cx="1708.9" cy="575.8" r="6.6"/><circle cx="1716.9" cy="576.2" r="6.6"/><circle cx="1724.5" cy="576.6" r="6.6"/><circle cx="1728.6" cy="576.6" r="6.6"/><circle cx="1734.3" cy="576.1" r="6.6"/><circle cx="1743" cy="575.4" r="6.6"/><circle cx="1745.8" cy="575.1" r="6.6"/><circle cx="1755.4" cy="574.3" r="6.6"/><circle cx="1759.6" cy="573.9" r="6.6"/><circle cx="1764.9" cy="573.4" r="6.6"/><circle cx="1771.3" cy="572.4" r="6.6"/><circle cx="1778.4" cy="571.2" r="6.6"/><circle cx="1786.8" cy="569.8" r="6.6"/><circle cx="1790.8" cy="569.1" r="6.6"/><circle cx="1798.7" cy="567.8" r="6.6"/><circle cx="1804.6" cy="566.5" r="6.6"/><circle cx="1810.2" cy="564.8" r="6.6"/><circle cx="1817.6" cy="562.5" r="6.6"/><circle cx="1822.3" cy="561.1" r="6.6"/><circle cx="1829" cy="559" r="6.6"/><circle cx="1836.2" cy="558.9" r="6.6"/><circle cx="1844.2" cy="556.8" r="6.6"/><circle cx="1851" cy="552.9" r="6.6"/><circle cx="1855.6" cy="549" r="6.6"/><circle cx="1863.5" cy="547.2" r="6.6"/><circle cx="1867.4" cy="542" r="6.6"/><circle cx="1872.9" cy="536" r="6.6"/><circle cx="1872.5" cy="537" r="6.6"/><circle cx="1874.4" cy="531.3" r="6.6"/><circle cx="1873.5" cy="525.7" r="6.6"/><circle cx="1868.9" cy="522.5" r="6.6"/><circle cx="1863.2" cy="524.8" r="6.6"/><circle cx="1849.4" cy="523" r="6.6"/><circle cx="1846.9" cy="517.4" r="6.6"/><circle cx="1843.6" cy="512.9" r="6.6"/><circle cx="1836.2" cy="511.7" r="6.6"/><circle cx="1827.3" cy="506.7" r="6.6"/><circle cx="1822.6" cy="502.8" r="6.6"/><circle cx="1813.6" cy="498.9" r="6.6"/><circle cx="1811.5" cy="497.8" r="6.6"/><circle cx="1807.4" cy="496.6" r="6.6"/><circle cx="1796.6" cy="493.9" r="6.6"/><circle cx="1789.4" cy="491.6" r="6.6"/><circle cx="1784.3" cy="491.1" r="6.6"/><circle cx="1778" cy="493.8" r="6.6"/><circle cx="1775.9" cy="499.5" r="6.6"/><circle cx="1769.7" cy="508.1" r="6.6"/><circle cx="1769.8" cy="513.6" r="6.6"/><circle cx="1768.3" cy="521.5" r="6.6"/><circle cx="1764.2" cy="526.7" r="6.6"/><circle cx="1763.3" cy="531.2" r="6.6"/><circle cx="1762" cy="541.2" r="6.6"/><circle cx="1756.8" cy="543" r="6.6"/><circle cx="1752.6" cy="550.2" r="6.6"/><circle cx="1747.9" cy="558.2" r="6.6"/><circle cx="1740.9" cy="562" r="6.6"/><circle cx="1733.5" cy="573.8" r="6.6"/><circle cx="1724.2" cy="574.9" r="6.6"/><circle cx="1714.6" cy="568.8" r="6.6"/><circle cx="1709.1" cy="559.7" r="6.6"/><circle cx="1703.6" cy="554.4" r="6.6"/><circle cx="1699.8" cy="551.5" r="6.6"/><circle cx="1692.5" cy="544.2" r="6.6"/><circle cx="1688.9" cy="538.8" r="6.6"/><circle cx="1684.6" cy="534.9" r="6.6"/><circle cx="1678" cy="531.7" r="6.6"/><circle cx="1673.9" cy="531.4" r="6.6"/><circle cx="1667.5" cy="530.6" r="6.6"/><circle cx="1662.7" cy="527.9" r="6.6"/><circle cx="1654.7" cy="529.7" r="6.6"/><circle cx="1646.6" cy="531.1" r="6.6"/><circle cx="1639.4" cy="537.5" r="6.6"/><circle cx="1635.9" cy="537.4" r="6.6"/><circle cx="1630.5" cy="543.4" r="6.6"/><circle cx="1627.8" cy="549.1" r="6.6"/><circle cx="1620.6" cy="557.4" r="6.6"/></g>
<g fill="#bdbdbd" fill-opacity="0.5" stroke="#d9d9d9" stroke-opacity="0.55" stroke-width="0.8">
<circle cx="1776.3" cy="496.4" r="6.6"/><circle cx="1784" cy="478.4" r="6.6"/><circle cx="1766.4" cy="506.9" r="6.6"/><circle cx="1891.1" cy="525.8" r="6.6"/><circle cx="1810.9" cy="486.5" r="6.6"/><circle cx="1864" cy="507.1" r="6.6"/><circle cx="1891.9" cy="525.2" r="6.6"/><circle cx="1830.7" cy="497.1" r="6.6"/><circle cx="1799.5" cy="491.7" r="6.6"/><circle cx="1892.3" cy="531" r="6.6"/><circle cx="1810.7" cy="489.5" r="6.6"/><circle cx="1792.6" cy="488.2" r="6.6"/><circle cx="1880.8" cy="524.5" r="6.6"/><circle cx="1865.4" cy="519.4" r="6.6"/><circle cx="1825.5" cy="487.1" r="6.6"/><circle cx="1886.9" cy="518" r="6.6"/><circle cx="1785.2" cy="484.2" r="6.6"/><circle cx="1849" cy="496.9" r="6.6"/><circle cx="1848" cy="506.8" r="6.6"/><circle cx="1877.1" cy="523.7" r="6.6"/><circle cx="1790.5" cy="491.3" r="6.6"/><circle cx="1801.3" cy="490.6" r="6.6"/><circle cx="1839.7" cy="491.7" r="6.6"/><circle cx="1817.8" cy="484.5" r="6.6"/><circle cx="1835.8" cy="495.5" r="6.6"/><circle cx="1836.3" cy="491.1" r="6.6"/><circle cx="1853.6" cy="502.6" r="6.6"/><circle cx="1832.8" cy="504.1" r="6.6"/><circle cx="1886.2" cy="516.6" r="6.6"/><circle cx="1886.5" cy="524.5" r="6.6"/><circle cx="1780.9" cy="483.9" r="6.6"/><circle cx="1794.4" cy="481.2" r="6.6"/><circle cx="1856.7" cy="514.4" r="6.6"/><circle cx="1807.3" cy="488.1" r="6.6"/><circle cx="1765.5" cy="508.4" r="6.6"/><circle cx="1891.9" cy="521.6" r="6.6"/><circle cx="1797.7" cy="479.3" r="6.6"/><circle cx="1779.9" cy="500.9" r="6.6"/><circle cx="1882.3" cy="523.3" r="6.6"/><circle cx="1796.8" cy="485.5" r="6.6"/><circle cx="1883.3" cy="509.3" r="6.6"/><circle cx="1818.6" cy="481.1" r="6.6"/><circle cx="1885.8" cy="512.9" r="6.6"/><circle cx="1779.8" cy="506.8" r="6.6"/><circle cx="1794.1" cy="483.2" r="6.6"/><circle cx="1784.1" cy="479.9" r="6.6"/><circle cx="1789.3" cy="494.7" r="6.6"/><circle cx="1786.2" cy="496.7" r="6.6"/><circle cx="1871.9" cy="517" r="6.6"/><circle cx="1846.2" cy="499.9" r="6.6"/><circle cx="1585.7" cy="534.3" r="6.6"/><circle cx="1596" cy="542.5" r="6.6"/><circle cx="1612.7" cy="544.3" r="6.6"/><circle cx="1615.2" cy="513" r="6.6"/><circle cx="1620.4" cy="505.3" r="6.6"/><circle cx="1629.3" cy="513" r="6.6"/><circle cx="1598.5" cy="492.5" r="6.6"/><circle cx="1607.5" cy="487.3" r="6.6"/><circle cx="1637.1" cy="468.1" r="6.6"/><circle cx="1643.5" cy="459.6" r="6.6"/><circle cx="1676.9" cy="502.7" r="6.6"/><circle cx="1662.7" cy="516.9" r="6.6"/><circle cx="1639.6" cy="520.7" r="6.6"/><circle cx="1685.9" cy="523.3" r="6.6"/><circle cx="1696.1" cy="533.6" r="6.6"/><circle cx="1651.2" cy="522" r="6.6"/><circle cx="1673" cy="520.7" r="6.6"/><circle cx="1786" cy="460.4" r="6.6"/><circle cx="1773.2" cy="477.1" r="6.6"/><circle cx="1783.4" cy="482.2" r="6.6"/><circle cx="1842.5" cy="466.8" r="6.6"/><circle cx="1859.2" cy="460.4" r="6.6"/><circle cx="1842.5" cy="484.8" r="6.6"/><circle cx="1857.9" cy="489.9" r="6.6"/><circle cx="1852.8" cy="498.9" r="6.6"/><circle cx="1872.1" cy="497.6" r="6.6"/><circle cx="1879.8" cy="493.7" r="6.6"/><circle cx="1877.2" cy="505.3" r="6.6"/><circle cx="1883.6" cy="513" r="6.6"/><circle cx="1891.3" cy="519.4" r="6.6"/><circle cx="1896.5" cy="531" r="6.6"/><circle cx="1883.6" cy="532.3" r="6.6"/><circle cx="1910.6" cy="516.9" r="6.6"/><circle cx="1922.1" cy="507.9" r="6.6"/><circle cx="1917" cy="488.6" r="6.6"/><circle cx="1901.6" cy="482.2" r="6.6"/><circle cx="1899" cy="474.5" r="6.6"/><circle cx="1909.3" cy="473.2" r="6.6"/><circle cx="1927.3" cy="469.3" r="6.6"/><circle cx="1927.3" cy="477.1" r="6.6"/><circle cx="1932.4" cy="483.5" r="6.6"/><circle cx="1937.6" cy="497.6" r="6.6"/><circle cx="1965.8" cy="488.1" r="6.6"/><circle cx="1872.1" cy="473.2" r="6.6"/><circle cx="1807.8" cy="484.8" r="6.6"/><circle cx="1819.4" cy="482.2" r="6.6"/><circle cx="1760.3" cy="520.7" r="6.6"/><circle cx="1765.5" cy="507.9" r="6.6"/><circle cx="1751.3" cy="541.3" r="6.6"/><circle cx="1827.1" cy="477.1" r="6.6"/><circle cx="1868.2" cy="474.5" r="6.6"/><circle cx="1917" cy="477.1" r="6.6"/><circle cx="1893.9" cy="513" r="6.6"/><circle cx="1904.2" cy="520.7" r="6.6"/>
</g>
<g fill="#d3d8ec" fill-opacity="0.75">
<circle cx="1864.2" cy="150" r="6.6"/><circle cx="1915.4" cy="150.4" r="6.6"/><circle cx="1972.9" cy="179.5" r="6.6"/><circle cx="1997.9" cy="190.9" r="6.6"/><circle cx="1823.6" cy="210.1" r="6.6"/><circle cx="1965.1" cy="230.3" r="6.6"/><circle cx="1982.8" cy="271.6" r="6.6"/><circle cx="1988.7" cy="277.9" r="6.6"/><circle cx="1849" cy="286.3" r="6.6"/><circle cx="1923.1" cy="304.4" r="6.6"/><circle cx="1817.7" cy="325" r="6.6"/><circle cx="1841.7" cy="340.9" r="6.6"/><circle cx="1987.2" cy="339.8" r="6.6"/><circle cx="1939.3" cy="362.6" r="6.6"/><circle cx="1930.9" cy="372.6" r="6.6"/><circle cx="1846.5" cy="377" r="6.6"/><circle cx="1781.6" cy="385.8" r="6.6"/><circle cx="1963.7" cy="386.2" r="6.6"/><circle cx="1984.7" cy="385.1" r="6.6"/><circle cx="1831.4" cy="396.2" r="6.6"/><circle cx="1860.1" cy="400.9" r="6.6"/><circle cx="1873.7" cy="406.1" r="6.6"/><circle cx="1909.9" cy="409.4" r="6.6"/><circle cx="1791.9" cy="413.5" r="6.6"/><circle cx="1845.4" cy="417.2" r="6.6"/><circle cx="1839.8" cy="423.8" r="6.6"/><circle cx="1875.2" cy="423.1" r="6.6"/><circle cx="1906.2" cy="423.1" r="6.6"/><circle cx="1907.6" cy="426" r="6.6"/><circle cx="1926.8" cy="421.9" r="6.6"/><circle cx="1887" cy="429.7" r="6.6"/><circle cx="1809.2" cy="430.1" r="6.6"/><circle cx="1949.7" cy="426.7" r="6.6"/><circle cx="1952.6" cy="431.5" r="6.6"/><circle cx="1813.7" cy="438.9" r="6.6"/><circle cx="1824.7" cy="441.5" r="6.6"/><circle cx="1889.2" cy="440.7" r="6.6"/><circle cx="1859" cy="444.1" r="6.6"/><circle cx="1800.4" cy="449.6" r="6.6"/><circle cx="1814.8" cy="459.2" r="6.6"/>
</g>
<g fill="#1030e0">
<circle cx="1864.2" cy="150" r="3.5"/><circle cx="1915.4" cy="150.4" r="3.5"/><circle cx="1972.9" cy="179.5" r="3.5"/><circle cx="1997.9" cy="190.9" r="3.5"/><circle cx="1823.6" cy="210.1" r="3.5"/><circle cx="1965.1" cy="230.3" r="3.5"/><circle cx="1982.8" cy="271.6" r="3.5"/><circle cx="1988.7" cy="277.9" r="3.5"/><circle cx="1849" cy="286.3" r="3.5"/><circle cx="1923.1" cy="304.4" r="3.5"/><circle cx="1817.7" cy="325" r="3.5"/><circle cx="1841.7" cy="340.9" r="3.5"/><circle cx="1987.2" cy="339.8" r="3.5"/><circle cx="1939.3" cy="362.6" r="3.5"/><circle cx="1930.9" cy="372.6" r="3.5"/><circle cx="1846.5" cy="377" r="3.5"/><circle cx="1781.6" cy="385.8" r="3.5"/><circle cx="1963.7" cy="386.2" r="3.5"/><circle cx="1984.7" cy="385.1" r="3.5"/><circle cx="1831.4" cy="396.2" r="3.5"/><circle cx="1860.1" cy="400.9" r="3.5"/><circle cx="1873.7" cy="406.1" r="3.5"/><circle cx="1909.9" cy="409.4" r="3.5"/><circle cx="1791.9" cy="413.5" r="3.5"/><circle cx="1845.4" cy="417.2" r="3.5"/><circle cx="1839.8" cy="423.8" r="3.5"/><circle cx="1875.2" cy="423.1" r="3.5"/><circle cx="1906.2" cy="423.1" r="3.5"/><circle cx="1907.6" cy="426" r="3.5"/><circle cx="1926.8" cy="421.9" r="3.5"/><circle cx="1887" cy="429.7" r="3.5"/><circle cx="1809.2" cy="430.1" r="3.5"/><circle cx="1949.7" cy="426.7" r="3.5"/><circle cx="1952.6" cy="431.5" r="3.5"/><circle cx="1813.7" cy="438.9" r="3.5"/><circle cx="1824.7" cy="441.5" r="3.5"/><circle cx="1889.2" cy="440.7" r="3.5"/><circle cx="1859" cy="444.1" r="3.5"/><circle cx="1800.4" cy="449.6" r="3.5"/><circle cx="1814.8" cy="459.2" r="3.5"/>
</g>
<g font-size="16.5" text-anchor="middle" fill="#141414">
<text x="1948.5" y="146.1">Phlda1</text><text x="1878.9" y="169.3">Slc15a3</text><text x="1991.7" y="172.6">Cd93</text><text x="1985.4" y="209.5">Plaur</text><text x="1848.3" y="215.4">Prnp</text><text x="1990.6" y="232.3">Dgat2</text><text x="1996.8" y="265.1">Lum</text><text x="1872.3" y="294.2">Fth1</text><text x="1992.8" y="297.9">Gad1</text><text x="1944.5" y="310.5">Xdh</text><text x="1837.3" y="318.6">Ly6a</text><text x="1876.3" y="348.4">Gpr183</text><text x="1995.7" y="357.6">Adm</text><text x="1956.3" y="369.1">C3</text><text x="1866" y="370.9">Smox</text><text x="1790.5" y="378.6">Icos</text><text x="1998.7" y="380.5">Dcn</text><text x="1839.8" y="393.7">Hilpda</text><text x="1883.3" y="393.7">P4ha2</text><text x="1930.1" y="391.5">Ramp3</text><text x="1987.2" y="404.1">Hs3st1</text><text x="1817" y="415.9">Prdx5</text><text x="1892.5" y="416.6">Sdc4</text><text x="1961.8" y="420.3">Serpine1</text><text x="1753.2" y="443.5">D16Ertd472e</text><text x="1972.1" y="451.2">Nos2</text><text x="1908" y="459.3">Gstm1</text><text x="1833.6" y="478.1">Serpine2</text>
</g>
<line x1="1630.1" y1="129" x2="1630.1" y2="597.7" stroke="#111" stroke-width="1.6" stroke-dasharray="1.4 5.1"/>
<line x1="1726.3" y1="129" x2="1726.3" y2="597.7" stroke="#111" stroke-width="1.6" stroke-dasharray="1.4 5.1"/>
<line x1="1822.5" y1="129" x2="1822.5" y2="597.7" stroke="#111" stroke-width="1.6" stroke-dasharray="1.4 5.1"/>
<line x1="1918.7" y1="129" x2="1918.7" y2="597.7" stroke="#111" stroke-width="1.6" stroke-dasharray="1.4 5.1"/>
<line x1="2014.9" y1="129" x2="2014.9" y2="597.7" stroke="#111" stroke-width="1.6" stroke-dasharray="1.4 5.1"/>
<line x1="1566" y1="243.2" x2="2017.8" y2="243.2" stroke="#111" stroke-width="1.6" stroke-dasharray="1.4 5.1"/>
<line x1="1566" y1="409.8" x2="2017.8" y2="409.8" stroke="#111" stroke-width="1.6" stroke-dasharray="1.4 5.1"/>
<line x1="1566" y1="577.1" x2="2017.8" y2="577.1" stroke="#111" stroke-width="1.6" stroke-dasharray="1.4 5.1"/>
<line x1="1566" y1="128.5" x2="1566" y2="598.4" stroke="#000" stroke-width="1.5"/>
<line x1="1565.3" y1="597.7" x2="2017.8" y2="597.7" stroke="#000" stroke-width="1.5"/>
<line x1="1630.1" y1="597.7" x2="1630.1" y2="601.2" stroke="#333" stroke-width="1.2"/>
<line x1="1726.3" y1="597.7" x2="1726.3" y2="601.2" stroke="#333" stroke-width="1.2"/>
<line x1="1822.5" y1="597.7" x2="1822.5" y2="601.2" stroke="#333" stroke-width="1.2"/>
<line x1="1918.7" y1="597.7" x2="1918.7" y2="601.2" stroke="#333" stroke-width="1.2"/>
<line x1="2014.9" y1="597.7" x2="2014.9" y2="601.2" stroke="#333" stroke-width="1.2"/>
<line x1="1562.5" y1="243.2" x2="1566" y2="243.2" stroke="#333" stroke-width="1.2"/>
<line x1="1562.5" y1="409.8" x2="1566" y2="409.8" stroke="#333" stroke-width="1.2"/>
<line x1="1562.5" y1="577.1" x2="1566" y2="577.1" stroke="#333" stroke-width="1.2"/>
<clipPath id="clipy1454"><rect x="1543.8" y="100" width="40" height="520"/></clipPath>
<text x="1558" y="247.6" font-size="12.2" text-anchor="end" fill="#4d4d4d" clip-path="url(#clipy1454)">100</text>
<text x="1558" y="414.2" font-size="12.2" text-anchor="end" fill="#4d4d4d" clip-path="url(#clipy1454)">50</text>
<text x="1558" y="581.5" font-size="12.2" text-anchor="end" fill="#4d4d4d" clip-path="url(#clipy1454)">0</text>
<clipPath id="clip1454"><rect x="1526" y="597.7" width="600" height="14.7"/></clipPath>
<text x="1630.1" y="614.7" font-size="12.4" text-anchor="middle" fill="#4d4d4d">-2</text>
<text x="1726.3" y="614.7" font-size="12.4" text-anchor="middle" fill="#4d4d4d">0</text>
<text x="1822.5" y="614.7" font-size="12.4" text-anchor="middle" fill="#4d4d4d">2</text>
<text x="1918.7" y="614.7" font-size="12.4" text-anchor="middle" fill="#4d4d4d">4</text>
<text x="2014.9" y="614.7" font-size="12.4" text-anchor="middle" fill="#4d4d4d">6</text>
<text x="1813.3" y="87.2" font-size="35.1" text-anchor="middle" fill="#1a1a1a">Opa1 gStk11 vs Opa1 sgC</text>
<text x="1779.8" y="660.5" font-size="35.1" text-anchor="middle" fill="#1a1a1a">Log2 Fold Change</text>
<text transform="translate(1524.3 321.5) rotate(-90)" font-size="35.1" text-anchor="middle" fill="#1a1a1a">-Log10 adjusted p-value</text>
</g>
<g id="pcd">
<text x="12.5" y="731.8" font-size="58">c</text>
<text x="1420.6" y="731.5" font-size="58">d</text>
<rect x="489.2" y="833" width="116.6" height="18" fill="#bfbfbf"/>
<rect x="489.2" y="860.3" width="108.6" height="18" fill="#bfbfbf"/>
<rect x="489.2" y="888" width="103.8" height="18" fill="#bfbfbf"/>
<rect x="489.2" y="915.4" width="100.1" height="18" fill="#bfbfbf"/>
<rect x="489.2" y="943.1" width="99.3" height="18" fill="#bfbfbf"/>
<rect x="489.2" y="970.4" width="95.7" height="18" fill="#bfbfbf"/>
<rect x="489.2" y="998.2" width="90.1" height="18" fill="#bfbfbf"/>
<rect x="489.2" y="1025.5" width="82.5" height="18" fill="#bfbfbf"/>
<rect x="489.2" y="1053.3" width="82.5" height="18" fill="#bfbfbf"/>
<line x1="110.5" y1="821.5" x2="652.1" y2="821.5" stroke="#000" stroke-width="1.6"/>
<line x1="489.2" y1="818" x2="489.2" y2="1080" stroke="#000" stroke-width="2"/>
<line x1="570.5" y1="818.3" x2="570.5" y2="822" stroke="#000" stroke-width="1.6"/>
<line x1="651.3" y1="818.3" x2="651.3" y2="822" stroke="#000" stroke-width="1.6"/>
<line x1="485.7" y1="842" x2="489.2" y2="842" stroke="#000" stroke-width="1.6"/>
<line x1="485.7" y1="869.3" x2="489.2" y2="869.3" stroke="#000" stroke-width="1.6"/>
<line x1="485.7" y1="897" x2="489.2" y2="897" stroke="#000" stroke-width="1.6"/>
<line x1="485.7" y1="924.4" x2="489.2" y2="924.4" stroke="#000" stroke-width="1.6"/>
<line x1="485.7" y1="952.1" x2="489.2" y2="952.1" stroke="#000" stroke-width="1.6"/>
<line x1="485.7" y1="979.4" x2="489.2" y2="979.4" stroke="#000" stroke-width="1.6"/>
<line x1="485.7" y1="1007.2" x2="489.2" y2="1007.2" stroke="#000" stroke-width="1.6"/>
<line x1="485.7" y1="1034.5" x2="489.2" y2="1034.5" stroke="#000" stroke-width="1.6"/>
<line x1="485.7" y1="1062.3" x2="489.2" y2="1062.3" stroke="#000" stroke-width="1.6"/>
<text x="489.2" y="810.5" font-size="19.5" text-anchor="middle" fill="#000">0</text>
<text x="570.5" y="810.5" font-size="19.5" text-anchor="middle" fill="#000">10</text>
<text x="651.3" y="810.5" font-size="19.5" text-anchor="middle" fill="#000">20</text>
<text x="596.6" y="778.8" font-size="18.7" text-anchor="middle" fill="#000">-log(p-value)</text>
<text x="242.4" y="806.3" font-size="22.5" text-anchor="middle" fill="#000">KEGG pathways</text>
<g font-size="18.5" text-anchor="end" fill="#000">
<text transform="translate(477.2 848.5) scale(1.033 1)">mmu04151:PI3K-Akt signaling pathway</text>
<text transform="translate(477.2 875.8) scale(1.033 1)">mmu04512:ECM-receptor interaction</text>
<text transform="translate(477.2 903.5) scale(1.033 1)">mmu04060:Cytokine-cytokine receptor interaction</text>
<text transform="translate(477.2 930.9) scale(1.033 1)">mmu04940:Type I diabetes mellitus</text>
<text transform="translate(477.2 958.6) scale(1.033 1)">mmu04510:Focal adhesion</text>
<text transform="translate(477.2 985.9) scale(1.033 1)">mmu04668:TNF signaling pathway</text>
<text transform="translate(477.2 1013.7) scale(1.033 1)">mmu04066:HIF-1 signaling pathway</text>
<text transform="translate(477.2 1041) scale(1.033 1)">mmu05332:Graft-versus-host disease</text>
<text transform="translate(477.2 1068.8) scale(1.033 1)">mmu04672:Intestinal immune network for IgA production</text>
</g>
<rect x="1160.9" y="832.4" width="173.8" height="16.5" fill="#bfbfbf"/>
<rect x="1160.9" y="857.6" width="145.4" height="16.5" fill="#bfbfbf"/>
<rect x="1160.9" y="882.9" width="124.5" height="16.5" fill="#bfbfbf"/>
<rect x="1160.9" y="908.1" width="108" height="16.5" fill="#bfbfbf"/>
<rect x="1160.9" y="933.9" width="102.8" height="16.5" fill="#bfbfbf"/>
<rect x="1160.9" y="959" width="97.5" height="16.5" fill="#bfbfbf"/>
<rect x="1160.9" y="984.4" width="96.2" height="16.5" fill="#bfbfbf"/>
<rect x="1160.9" y="1009.6" width="93.6" height="16.5" fill="#bfbfbf"/>
<rect x="1160.9" y="1034.8" width="91.4" height="16.5" fill="#bfbfbf"/>
<rect x="1160.9" y="1060.2" width="85.3" height="16.5" fill="#bfbfbf"/>
<line x1="769" y1="821.4" x2="1368.1" y2="821.4" stroke="#000" stroke-width="1.6"/>
<line x1="1160.9" y1="817.9" x2="1160.9" y2="1084" stroke="#000" stroke-width="2"/>
<line x1="1201.8" y1="818.2" x2="1201.8" y2="821.9" stroke="#000" stroke-width="1.6"/>
<line x1="1242.8" y1="818.2" x2="1242.8" y2="821.9" stroke="#000" stroke-width="1.6"/>
<line x1="1283.7" y1="818.2" x2="1283.7" y2="821.9" stroke="#000" stroke-width="1.6"/>
<line x1="1325.1" y1="818.2" x2="1325.1" y2="821.9" stroke="#000" stroke-width="1.6"/>
<line x1="1366.5" y1="818.2" x2="1366.5" y2="821.9" stroke="#000" stroke-width="1.6"/>
<line x1="1157.4" y1="840.6" x2="1160.9" y2="840.6" stroke="#000" stroke-width="1.6"/>
<line x1="1157.4" y1="865.9" x2="1160.9" y2="865.9" stroke="#000" stroke-width="1.6"/>
<line x1="1157.4" y1="891.1" x2="1160.9" y2="891.1" stroke="#000" stroke-width="1.6"/>
<line x1="1157.4" y1="916.4" x2="1160.9" y2="916.4" stroke="#000" stroke-width="1.6"/>
<line x1="1157.4" y1="942.1" x2="1160.9" y2="942.1" stroke="#000" stroke-width="1.6"/>
<line x1="1157.4" y1="967.3" x2="1160.9" y2="967.3" stroke="#000" stroke-width="1.6"/>
<line x1="1157.4" y1="992.6" x2="1160.9" y2="992.6" stroke="#000" stroke-width="1.6"/>
<line x1="1157.4" y1="1017.9" x2="1160.9" y2="1017.9" stroke="#000" stroke-width="1.6"/>
<line x1="1157.4" y1="1043.1" x2="1160.9" y2="1043.1" stroke="#000" stroke-width="1.6"/>
<line x1="1157.4" y1="1068.4" x2="1160.9" y2="1068.4" stroke="#000" stroke-width="1.6"/>
<text x="1160.9" y="809.5" font-size="19.6" text-anchor="middle" fill="#000">0</text>
<text x="1201.8" y="809.5" font-size="19.6" text-anchor="middle" fill="#000">10</text>
<text x="1242.8" y="809.5" font-size="19.6" text-anchor="middle" fill="#000">20</text>
<text x="1283.7" y="809.5" font-size="19.6" text-anchor="middle" fill="#000">30</text>
<text x="1325.1" y="809.5" font-size="19.6" text-anchor="middle" fill="#000">40</text>
<text x="1366.5" y="809.5" font-size="19.6" text-anchor="middle" fill="#000">50</text>
<text x="1272" y="777.5" font-size="19" text-anchor="middle" fill="#000">-log(p-value)</text>
<text x="964.5" y="807.7" font-size="23.2" text-anchor="middle" fill="#000">GOTerm_Biological Process</text>
<g font-size="18.3" text-anchor="end" fill="#000">
<text transform="translate(1147 847) scale(1.081 1)">GO:0007067~mitotic nuclear division</text>
<text transform="translate(1147 872.3) scale(1.081 1)">GO:0002376~immune system process</text>
<text transform="translate(1147 897.5) scale(1.081 1)">GO:0007049~cell cycle</text>
<text transform="translate(1147 922.8) scale(1.081 1)">GO:0051301~cell division</text>
<text transform="translate(1147 948.5) scale(1.081 1)">GO:0006954~inflammatory response</text>
<text transform="translate(1147 973.7) scale(1.081 1)">GO:0006955~immune response</text>
<text transform="translate(1147 999) scale(1.081 1)">GO:0071222~cellular response to lipopolysaccharide</text>
<text transform="translate(1147 1024.3) scale(1.081 1)">GO:0050728~negative regulation of inflammatory response</text>
<text transform="translate(1147 1049.5) scale(1.081 1)">GO:0007059~chromosome segregation</text>
<text transform="translate(1147 1074.8) scale(1.081 1)">GO:0008285~negative regulation of cell proliferation</text>
</g>
<rect x="1858.5" y="831.5" width="169.8" height="16.7" fill="#bfbfbf"/>
<rect x="1858.5" y="856.6" width="149.5" height="16.7" fill="#bfbfbf"/>
<rect x="1858.5" y="881.8" width="139.5" height="16.7" fill="#bfbfbf"/>
<rect x="1858.5" y="906.9" width="101.6" height="16.7" fill="#bfbfbf"/>
<rect x="1858.5" y="932" width="59.8" height="16.7" fill="#bfbfbf"/>
<rect x="1858.5" y="957.1" width="44.6" height="16.7" fill="#bfbfbf"/>
<rect x="1858.5" y="982.2" width="42.6" height="16.7" fill="#bfbfbf"/>
<rect x="1858.5" y="1007.4" width="42.2" height="16.7" fill="#bfbfbf"/>
<rect x="1858.5" y="1032.5" width="41" height="16.7" fill="#bfbfbf"/>
<rect x="1858.5" y="1057.6" width="41" height="16.7" fill="#bfbfbf"/>
<rect x="1858.5" y="1082.7" width="41" height="16.7" fill="#bfbfbf"/>
<line x1="1487.7" y1="821.6" x2="2078.5" y2="821.6" stroke="#000" stroke-width="1.6"/>
<line x1="1858.5" y1="818.1" x2="1858.5" y2="1106.6" stroke="#000" stroke-width="2"/>
<line x1="1901.9" y1="818.4" x2="1901.9" y2="822.1" stroke="#000" stroke-width="1.6"/>
<line x1="1945.8" y1="818.4" x2="1945.8" y2="822.1" stroke="#000" stroke-width="1.6"/>
<line x1="1989.6" y1="818.4" x2="1989.6" y2="822.1" stroke="#000" stroke-width="1.6"/>
<line x1="2033.5" y1="818.4" x2="2033.5" y2="822.1" stroke="#000" stroke-width="1.6"/>
<line x1="2077.3" y1="818.4" x2="2077.3" y2="822.1" stroke="#000" stroke-width="1.6"/>
<line x1="1855" y1="839.9" x2="1858.5" y2="839.9" stroke="#000" stroke-width="1.6"/>
<line x1="1855" y1="865" x2="1858.5" y2="865" stroke="#000" stroke-width="1.6"/>
<line x1="1855" y1="890.1" x2="1858.5" y2="890.1" stroke="#000" stroke-width="1.6"/>
<line x1="1855" y1="915.2" x2="1858.5" y2="915.2" stroke="#000" stroke-width="1.6"/>
<line x1="1855" y1="940.4" x2="1858.5" y2="940.4" stroke="#000" stroke-width="1.6"/>
<line x1="1855" y1="965.5" x2="1858.5" y2="965.5" stroke="#000" stroke-width="1.6"/>
<line x1="1855" y1="990.6" x2="1858.5" y2="990.6" stroke="#000" stroke-width="1.6"/>
<line x1="1855" y1="1015.7" x2="1858.5" y2="1015.7" stroke="#000" stroke-width="1.6"/>
<line x1="1855" y1="1040.8" x2="1858.5" y2="1040.8" stroke="#000" stroke-width="1.6"/>
<line x1="1855" y1="1065.9" x2="1858.5" y2="1065.9" stroke="#000" stroke-width="1.6"/>
<line x1="1855" y1="1091" x2="1858.5" y2="1091" stroke="#000" stroke-width="1.6"/>
<text x="1858.5" y="810.2" font-size="18.8" text-anchor="middle" fill="#000">0</text>
<text x="1901.9" y="810.2" font-size="18.8" text-anchor="middle" fill="#000">20</text>
<text x="1945.8" y="810.2" font-size="18.8" text-anchor="middle" fill="#000">40</text>
<text x="1989.6" y="810.2" font-size="18.8" text-anchor="middle" fill="#000">60</text>
<text x="2033.5" y="810.2" font-size="18.8" text-anchor="middle" fill="#000">80</text>
<text x="2077.3" y="810.2" font-size="18.8" text-anchor="middle" fill="#000">100</text>
<text x="1962.9" y="780.6" font-size="18.2" text-anchor="middle" fill="#000">-log(p-value)</text>
<text x="1667.9" y="811.5" font-size="22" text-anchor="middle" fill="#000">GOTerm_Biological Process</text>
<g font-size="17.8" text-anchor="end" fill="#000">
<text transform="translate(1845.3 846.1) scale(1.049 1)">GO:0007049~cell cycle</text>
<text transform="translate(1845.3 871.2) scale(1.049 1)">GO:0007067~mitotic nuclear division</text>
<text transform="translate(1845.3 896.3) scale(1.049 1)">GO:0051301~cell division</text>
<text transform="translate(1845.3 921.4) scale(1.049 1)">GO:0007059~chromosome segregation</text>
<text transform="translate(1845.3 946.6) scale(1.049 1)">GO:0007052~mitotic spindle organization</text>
<text transform="translate(1845.3 971.7) scale(1.049 1)">GO:0007080~mitotic metaphase plate congression</text>
<text transform="translate(1845.3 996.8) scale(1.049 1)">GO:0002376~immune system process</text>
<text transform="translate(1845.3 1021.9) scale(1.049 1)">GO:0007051~spindle organization</text>
<text transform="translate(1845.3 1047) scale(1.049 1)">GO:0000281~mitotic cytokinesis</text>
<text transform="translate(1845.3 1072.1) scale(1.049 1)">GO:0006954~inflammatory response</text>
<text transform="translate(1845.3 1097.2) scale(1.049 1)">GO:0000070~mitotic sister chromatid segregation</text>
</g>
</g>
<g id="pe">
<text x="12.6" y="1201.5" font-size="58">e</text>
<text x="240.6" y="1296.3" font-size="37" text-anchor="middle">Serine</text>
<rect x="162.5" y="1616.6" width="30.3" height="74.9" fill="#ff7f7f"/>
<rect x="208" y="1512.1" width="30.3" height="179.4" fill="#ff7f7f"/>
<rect x="253.5" y="1568.2" width="30.3" height="123.3" fill="#04589a"/>
<rect x="299" y="1517.4" width="30.3" height="174.1" fill="#04589a"/>
<line x1="147.4" y1="1388.5" x2="147.4" y2="1692.7" stroke="#000" stroke-width="2.9"/>
<line x1="142.5" y1="1691.5" x2="343.5" y2="1691.5" stroke="#000" stroke-width="2.9"/>
<line x1="142.5" y1="1389.7" x2="147.4" y2="1389.7" stroke="#000" stroke-width="2.9"/>
<text x="132" y="1401.3" font-size="33" text-anchor="end">20</text>
<line x1="142.5" y1="1465.4" x2="147.4" y2="1465.4" stroke="#000" stroke-width="2.9"/>
<text x="132" y="1477" font-size="33" text-anchor="end">15</text>
<line x1="142.5" y1="1541" x2="147.4" y2="1541" stroke="#000" stroke-width="2.9"/>
<text x="132" y="1552.6" font-size="33" text-anchor="end">10</text>
<line x1="142.5" y1="1616.6" x2="147.4" y2="1616.6" stroke="#000" stroke-width="2.9"/>
<text x="132" y="1628.2" font-size="33" text-anchor="end">5</text>
<line x1="142.5" y1="1691.5" x2="147.4" y2="1691.5" stroke="#000" stroke-width="2.9"/>
<text x="132" y="1703.1" font-size="33" text-anchor="end">0</text>
<line x1="177.6" y1="1691.5" x2="177.6" y2="1697.5" stroke="#000" stroke-width="2.9"/>
<line x1="223" y1="1691.5" x2="223" y2="1697.5" stroke="#000" stroke-width="2.9"/>
<line x1="268.5" y1="1691.5" x2="268.5" y2="1697.5" stroke="#000" stroke-width="2.9"/>
<line x1="314" y1="1691.5" x2="314" y2="1697.5" stroke="#000" stroke-width="2.9"/>
<text transform="translate(76.5 1538.4) rotate(-90)" font-size="37.2" text-anchor="middle">Area (AU x 10<tspan dy="-12.5" font-size="25.5">4</tspan><tspan dy="12.5"> )</tspan></text>
<line x1="177.6" y1="1608.4" x2="177.6" y2="1625.7" stroke="#000" stroke-width="2.5"/>
<line x1="169.7" y1="1608.4" x2="185.4" y2="1608.4" stroke="#000" stroke-width="2.5"/>
<line x1="169.7" y1="1625.7" x2="185.4" y2="1625.7" stroke="#000" stroke-width="2.5"/>
<line x1="223" y1="1493" x2="223" y2="1530" stroke="#000" stroke-width="2.5"/>
<line x1="214.3" y1="1493" x2="231.8" y2="1493" stroke="#000" stroke-width="2.5"/>
<line x1="214.3" y1="1530" x2="231.8" y2="1530" stroke="#000" stroke-width="2.5"/>
<line x1="268.5" y1="1559.1" x2="268.5" y2="1579.2" stroke="#000" stroke-width="2.5"/>
<line x1="260.7" y1="1559.1" x2="276.4" y2="1559.1" stroke="#000" stroke-width="2.5"/>
<line x1="260.7" y1="1579.2" x2="276.4" y2="1579.2" stroke="#000" stroke-width="2.5"/>
<line x1="314" y1="1504.9" x2="314" y2="1530" stroke="#000" stroke-width="2.5"/>
<line x1="305.2" y1="1504.9" x2="322.8" y2="1504.9" stroke="#000" stroke-width="2.5"/>
<line x1="305.2" y1="1530" x2="322.8" y2="1530" stroke="#000" stroke-width="2.5"/>
<circle cx="177.9" cy="1582.1" r="6.2" fill="#000"/>
<circle cx="168.1" cy="1608.4" r="6.2" fill="#000"/>
<circle cx="177.9" cy="1611.5" r="6.2" fill="#000"/>
<circle cx="168.1" cy="1635.1" r="6.2" fill="#000"/>
<circle cx="177.9" cy="1625.7" r="6.2" fill="#000"/>
<circle cx="187.3" cy="1635.1" r="6.2" fill="#000"/>
<circle cx="223.4" cy="1455.6" r="6.2" fill="#000"/>
<circle cx="223.4" cy="1471.3" r="6.2" fill="#000"/>
<circle cx="213.3" cy="1513.3" r="6.2" fill="#000"/>
<circle cx="232.8" cy="1508" r="6.2" fill="#000"/>
<circle cx="223.4" cy="1544.7" r="6.2" fill="#000"/>
<circle cx="223.4" cy="1575.5" r="6.2" fill="#000"/>
<circle cx="259.1" cy="1546.3" r="6.2" fill="#000"/>
<circle cx="277.9" cy="1541" r="6.2" fill="#000"/>
<circle cx="268.5" cy="1559.1" r="6.2" fill="#000"/>
<circle cx="268.5" cy="1579.2" r="6.2" fill="#000"/>
<circle cx="259.1" cy="1592.7" r="6.2" fill="#000"/>
<circle cx="277.9" cy="1592.7" r="6.2" fill="#000"/>
<circle cx="314" cy="1477.6" r="6.2" fill="#000"/>
<circle cx="314" cy="1493.9" r="6.2" fill="#000"/>
<circle cx="304.3" cy="1519.9" r="6.2" fill="#000"/>
<circle cx="323.7" cy="1512.1" r="6.2" fill="#000"/>
<circle cx="323.7" cy="1546.3" r="6.2" fill="#000"/>
<circle cx="304.3" cy="1556.6" r="6.2" fill="#000"/>
<path d="M175.7 1548.8 L175.7 1407.9 L222.4 1407.9 L222.4 1417" fill="none" stroke="#000" stroke-width="2.6"/>
<path d="M266 1520.6 L266 1441.2 L307.4 1441.2 L307.4 1450" fill="none" stroke="#000" stroke-width="2.6"/>
<text x="167.5" y="1386.6" font-size="27.8"><tspan font-style="italic">P</tspan> &lt;0.0001</text>
<text x="262.5" y="1426.5" font-size="27.8"><tspan font-style="italic">P</tspan> =0.0412</text>
<circle cx="176" cy="1727" r="14.4" fill="#bfbfbf"/>
<circle cx="223.7" cy="1727" r="14.4" fill="#000"/>
<circle cx="270.1" cy="1727" r="14.4" fill="#bfbfbf"/>
<circle cx="317.8" cy="1727" r="14.4" fill="#000"/>
</g>
<g id="pf">
<text transform="translate(442.3 1200.3) scale(1.13 1)" font-size="58">f</text>
<path d="M835.1 1208.0 L835.0 1226.0 L834.8 1244.0 L834.6 1262.0 L834.4 1280.0 L836.4 1280.0 L836.2 1262.0 L836.0 1244.0 L835.8 1226.0 L835.6 1208.0Z" fill="#b5b5b5"/>
<path d="M835.4 1292.0 L827.7 1275.2 L835.4 1275.2 L843.1 1275.2 Z" fill="#b5b5b5"/>
<path d="M835.1 1345.0 L835.0 1363.2 L834.8 1381.5 L834.6 1399.8 L834.4 1418.0 L836.4 1418.0 L836.2 1399.8 L836.0 1381.5 L835.8 1363.2 L835.6 1345.0Z" fill="#b5b5b5"/>
<path d="M835.4 1430.0 L827.7 1413.2 L835.4 1413.2 L843.1 1413.2 Z" fill="#b5b5b5"/>
<path d="M832.0 1512.0 L831.8 1530.0 L831.6 1548.0 L831.4 1566.0 L831.2 1584.0 L833.2 1584.0 L833.0 1566.0 L832.8 1548.0 L832.6 1530.0 L832.5 1512.0Z" fill="#b5b5b5"/>
<path d="M832.2 1596.0 L824.5 1579.2 L832.2 1579.2 L839.9 1579.2 Z" fill="#b5b5b5"/>
<text x="787.9" y="1195.8" font-size="30.5" fill="#858585" textLength="108.9" lengthAdjust="spacingAndGlyphs">Glucose</text>
<text x="804.7" y="1329.9" font-size="27.5" fill="#000" textLength="60" lengthAdjust="spacingAndGlyphs">3-PG</text>
<text x="778.1" y="1474.1" font-size="29" fill="#000" textLength="108.9" lengthAdjust="spacingAndGlyphs">Pyruvate</text>
<path d="M880.0 1320.6 L940.0 1320.8 L1000.0 1321.0 L1060.0 1321.2 L1120.0 1321.4 L1120.0 1319.4 L1060.0 1319.6 L1000.0 1319.8 L940.0 1320.0 L880.0 1320.2Z" fill="#222"/>
<path d="M1131.5 1320.4 L1116.1 1327.4 L1116.1 1320.4 L1116.1 1313.4 Z" fill="#222"/>
<text x="1144.7" y="1327.8" font-size="29.5" fill="#000" textLength="80.1" lengthAdjust="spacingAndGlyphs">Serine</text>
<text x="925.3" y="1266.9" font-size="27.3" fill="#000" textLength="63.1" lengthAdjust="spacingAndGlyphs">NAD<tspan dy="-9.8" font-size="16.9">+</tspan></text>
<text x="1047.5" y="1267.8" font-size="27.3" fill="#000" textLength="71.8" lengthAdjust="spacingAndGlyphs">NADH</text>
<path d="M963.2 1282.1 C980.5 1305.9 1000.1 1315.4 1017.4 1315.4 1035.0 1315.4 1058.7 1303.1 1077.4 1280.8" fill="none" stroke="#4a5aa0" stroke-width="2.5" stroke-linecap="round"/>
<path d="M954.6 1372.9 C972.2 1342.2 997.3 1322.6 1021.0 1321.8 1050.3 1322.6 1075.5 1345.0 1098.4 1375.7" fill="none" stroke="#4a5aa0" stroke-width="2.5" stroke-linecap="round"/>
<path d="M957.7 1273.8 L971.1 1282.1 L964.7 1283.9 L960.9 1289.2 Z" fill="#4a5aa0"/>
<path d="M1081.9 1273.8 L1078.7 1289.2 L1074.8 1283.9 L1068.5 1282.1 Z" fill="#4a5aa0"/>
<path d="M948.4 1379.9 L950.8 1364.3 L955.0 1369.4 L961.4 1370.9 Z" fill="#4a5aa0"/>
<path d="M1102.8 1382.7 L1089.4 1374.4 L1095.8 1372.6 L1099.6 1367.2 Z" fill="#4a5aa0"/>
<rect x="969.4" y="1351.9" width="101.3" height="48.9" fill="#7f88b3" rx="24.4"/>
<text x="1020" y="1384.9" font-size="24.5" text-anchor="middle" fill="#fff" textLength="83" lengthAdjust="spacingAndGlyphs">PHGDH</text>
<text x="883.7" y="1418.3" font-size="34.5" fill="#1d5a96" textLength="81.5" lengthAdjust="spacingAndGlyphs" font-weight="bold">2-HG</text>
<text x="1097.8" y="1411.8" font-size="27" fill="#000" textLength="60" lengthAdjust="spacingAndGlyphs">α-KG</text>
<line x1="1008.5" y1="1412.5" x2="1026.6" y2="1412.5" stroke="#e1362c" stroke-width="2.2"/>
<line x1="1017.4" y1="1412.5" x2="1017.4" y2="1452.4" stroke="#e1362c" stroke-width="2.2"/>
<text x="953.2" y="1485.3" font-size="29" fill="#e1362c" textLength="127.3" lengthAdjust="spacingAndGlyphs">CBR-5884</text>
<text x="402.6" y="1476.1" font-size="28.5" fill="#000" textLength="94.9" lengthAdjust="spacingAndGlyphs">Lactate</text>
<path d="M760.0 1468.1 L703.2 1467.9 L646.5 1467.7 L589.8 1467.5 L533.0 1467.3 L533.0 1469.3 L589.8 1469.1 L646.5 1468.9 L703.2 1468.7 L760.0 1468.5Z" fill="#222"/>
<path d="M521.2 1468.3 L536.6 1461.3 L536.6 1468.3 L536.6 1475.3 Z" fill="#222"/>
<text x="559.5" y="1420.9" font-size="27.3" fill="#000" textLength="62.2" lengthAdjust="spacingAndGlyphs">NAD<tspan dy="-9.8" font-size="16.9">+</tspan></text>
<text x="680.3" y="1417.1" font-size="27.3" fill="#000" textLength="71.8" lengthAdjust="spacingAndGlyphs">NADH</text>
<path d="M596.6 1434.2 C613.3 1456.5 631.5 1467.2 649.6 1467.4 667.8 1467.2 691.5 1455.1 710.2 1433.7" fill="none" stroke="#4a5aa0" stroke-width="2.5" stroke-linecap="round"/>
<path d="M581.2 1523.0 C599.4 1492.8 624.5 1471.9 648.8 1471.1 677.5 1471.9 702.7 1494.2 725.0 1526.3" fill="none" stroke="#4a5aa0" stroke-width="2.5" stroke-linecap="round"/>
<path d="M591.6 1426.7 L605.0 1435.0 L598.6 1436.8 L594.8 1442.1 Z" fill="#4a5aa0"/>
<path d="M714.7 1426.7 L711.5 1442.1 L707.6 1436.8 L701.2 1435.0 Z" fill="#4a5aa0"/>
<path d="M575.1 1530.0 L577.5 1514.4 L581.6 1519.5 L588.1 1521.0 Z" fill="#4a5aa0"/>
<path d="M730.0 1532.5 L716.6 1524.2 L723.0 1522.4 L726.8 1517.0 Z" fill="#4a5aa0"/>
<rect x="598.5" y="1497" width="96.6" height="49.4" fill="#7f88b3" rx="24.7"/>
<text x="646.8" y="1530.3" font-size="24.5" text-anchor="middle" fill="#fff" textLength="47" lengthAdjust="spacingAndGlyphs">LDH</text>
<text x="517.9" y="1567.5" font-size="34.5" fill="#1d5a96" textLength="81.5" lengthAdjust="spacingAndGlyphs" font-weight="bold">2-HG</text>
<text x="713" y="1566.1" font-size="27" fill="#000" textLength="60" lengthAdjust="spacingAndGlyphs">α-KG</text>
<line x1="639.9" y1="1573.2" x2="658" y2="1573.2" stroke="#e1362c" stroke-width="2.2"/>
<line x1="648.8" y1="1573.2" x2="648.8" y2="1612.3" stroke="#e1362c" stroke-width="2.2"/>
<text x="614.7" y="1643.8" font-size="29" fill="#e1362c" textLength="71.8" lengthAdjust="spacingAndGlyphs">NHI-2</text>
<path d="M748.4 1659.8 L750.9 1656.6 L753.6 1653.4 L756.4 1650.4 L759.3 1647.5 L762.3 1644.7 L765.5 1642.1 L768.7 1639.5 L772.1 1637.1 L775.5 1634.9 L779.1 1632.8 L782.7 1630.8 L786.4 1629.0 L790.2 1627.3 L794.0 1625.8 L797.9 1624.5 L801.9 1623.3 L805.9 1622.3 L809.9 1621.4 L814.0 1620.7 L818.1 1620.2 L818.2 1621.8 L814.2 1622.2 L810.2 1622.8 L806.2 1623.6 L802.2 1624.6 L798.3 1625.7 L794.4 1626.9 L790.6 1628.4 L786.8 1629.9 L783.1 1631.7 L779.5 1633.6 L776.0 1635.6 L772.5 1637.8 L769.1 1640.1 L765.9 1642.5 L762.7 1645.1 L759.6 1647.9 L756.7 1650.7 L753.9 1653.7 L751.1 1656.7 L748.6 1659.9Z" fill="#bdbdbd"/>
<path d="M824.4 1620.6 L817.8 1624.4 L817.5 1621.3 L817.2 1618.1 Z" fill="#bdbdbd"/>
<path d="M868.0 1628.7 L872.0 1630.5 L875.9 1632.5 L879.7 1634.6 L883.4 1637.0 L887.0 1639.4 L890.5 1642.0 L893.9 1644.8 L897.1 1647.7 L900.3 1650.8 L903.3 1654.0 L906.1 1657.3 L908.8 1660.7 L911.4 1664.3 L913.8 1668.0 L916.0 1671.7 L918.1 1675.6 L920.0 1679.5 L921.7 1683.6 L923.3 1687.7 L924.6 1691.9 L923.1 1692.3 L921.8 1688.2 L920.4 1684.1 L918.7 1680.1 L916.9 1676.2 L914.9 1672.3 L912.8 1668.6 L910.5 1664.9 L908.0 1661.4 L905.4 1657.9 L902.6 1654.6 L899.7 1651.4 L896.6 1648.3 L893.4 1645.3 L890.1 1642.5 L886.7 1639.9 L883.1 1637.4 L879.5 1635.0 L875.7 1632.8 L871.9 1630.8 L867.9 1628.9Z" fill="#bdbdbd"/>
<path d="M925.5 1698.2 L920.5 1692.4 L923.5 1691.5 L926.5 1690.6 Z" fill="#bdbdbd"/>
<path d="M927.3 1733.1 L926.7 1737.2 L926.0 1741.2 L925.1 1745.2 L924.0 1749.2 L922.8 1753.1 L921.4 1757.0 L919.9 1760.8 L918.2 1764.5 L916.4 1768.2 L914.4 1771.8 L912.2 1775.3 L909.9 1778.7 L907.5 1782.1 L904.9 1785.3 L902.2 1788.4 L899.4 1791.4 L896.5 1794.3 L893.4 1797.1 L890.3 1799.7 L887.0 1802.2 L886.0 1801.0 L889.3 1798.5 L892.5 1796.0 L895.5 1793.3 L898.5 1790.5 L901.3 1787.6 L904.0 1784.5 L906.6 1781.4 L909.1 1778.1 L911.4 1774.8 L913.6 1771.3 L915.6 1767.8 L917.5 1764.2 L919.3 1760.5 L920.9 1756.8 L922.3 1752.9 L923.6 1749.0 L924.7 1745.1 L925.7 1741.1 L926.5 1737.1 L927.1 1733.1Z" fill="#bdbdbd"/>
<path d="M881.3 1805.1 L885.1 1798.5 L887.0 1801.0 L888.8 1803.6 Z" fill="#bdbdbd"/>
<path d="M840.4 1819.8 L836.3 1820.3 L832.0 1820.6 L827.8 1820.7 L823.6 1820.6 L819.4 1820.4 L815.2 1820.0 L811.0 1819.4 L806.9 1818.6 L802.7 1817.7 L798.7 1816.6 L794.6 1815.3 L790.7 1813.8 L786.8 1812.2 L782.9 1810.4 L779.2 1808.5 L775.5 1806.4 L771.9 1804.1 L768.4 1801.7 L765.0 1799.2 L761.7 1796.5 L762.8 1795.3 L766.0 1798.0 L769.3 1800.5 L772.7 1803.0 L776.2 1805.3 L779.8 1807.4 L783.5 1809.4 L787.2 1811.2 L791.1 1812.9 L795.0 1814.4 L798.9 1815.7 L803.0 1816.9 L807.0 1817.9 L811.1 1818.7 L815.3 1819.4 L819.5 1819.9 L823.6 1820.2 L827.8 1820.3 L832.0 1820.2 L836.2 1820.0 L840.4 1819.6Z" fill="#bdbdbd"/>
<path d="M757.7 1791.6 L765.0 1793.8 L762.9 1796.2 L760.9 1798.6 Z" fill="#bdbdbd"/>
<path d="M746.2 1778.2 L743.9 1774.8 L741.6 1771.3 L739.6 1767.6 L737.7 1764.0 L735.9 1760.2 L734.3 1756.3 L732.9 1752.4 L731.6 1748.5 L730.5 1744.5 L729.5 1740.4 L728.8 1736.3 L728.2 1732.2 L727.7 1728.0 L727.5 1723.9 L727.4 1719.7 L727.5 1715.5 L727.7 1711.3 L728.2 1707.2 L728.8 1703.0 L729.5 1698.9 L731.1 1699.3 L730.3 1703.3 L729.6 1707.4 L729.1 1711.5 L728.8 1715.6 L728.6 1719.7 L728.6 1723.8 L728.8 1727.9 L729.2 1732.0 L729.7 1736.1 L730.4 1740.2 L731.3 1744.3 L732.3 1748.3 L733.5 1752.2 L734.9 1756.1 L736.4 1760.0 L738.1 1763.7 L739.9 1767.5 L741.9 1771.1 L744.1 1774.6 L746.4 1778.1Z" fill="#bdbdbd"/>
<path d="M731.9 1693.0 L733.4 1700.5 L730.4 1699.8 L727.3 1699.2 Z" fill="#bdbdbd"/>
<text x="530.2" y="1795.2" font-size="32" fill="#777" textLength="139.5" lengthAdjust="spacingAndGlyphs">Glutamine</text>
<path d="M673.0 1786.9 L679.5 1788.2 L686.3 1789.2 L693.4 1790.0 L700.8 1790.5 L708.5 1790.8 L716.5 1790.8 L724.8 1790.6 L733.3 1790.1 L742.0 1789.4 L750.9 1788.4 L760.0 1787.2 L769.3 1785.7 L778.8 1784.0 L788.4 1782.1 L798.2 1779.9 L808.1 1777.5 L818.0 1774.8 L828.1 1771.9 L838.2 1768.8 L848.4 1765.4 L858.7 1761.8 L868.9 1758.0 L879.2 1753.9 L889.5 1749.6 L887.7 1745.6 L877.6 1750.0 L867.5 1754.2 L857.3 1758.2 L847.2 1761.9 L837.1 1765.4 L827.1 1768.7 L817.2 1771.7 L807.3 1774.5 L797.5 1777.1 L787.8 1779.4 L778.3 1781.5 L768.9 1783.3 L759.7 1785.0 L750.6 1786.3 L741.8 1787.5 L733.1 1788.3 L724.7 1789.0 L716.5 1789.4 L708.5 1789.5 L700.9 1789.4 L693.5 1789.1 L686.4 1788.5 L679.6 1787.6 L673.1 1786.5Z" fill="#c3c3c3"/>
<path d="M902.8 1740.6 L890.6 1755.0 L887.3 1747.5 L884.0 1739.9 Z" fill="#c3c3c3"/>
<text x="903.6" y="1723.5" font-size="27" fill="#000" textLength="59.7" lengthAdjust="spacingAndGlyphs">α-KG</text>
<text x="1013" y="1568.8" font-size="27.3" fill="#000" textLength="79.8" lengthAdjust="spacingAndGlyphs">NADP<tspan dy="-9.8" font-size="16.9">+</tspan></text>
<text x="893.4" y="1604.1" font-size="27.3" fill="#000" textLength="88.8" lengthAdjust="spacingAndGlyphs">NADPH</text>
<text x="903.6" y="1819.8" font-size="27.3" fill="#000" textLength="88.4" lengthAdjust="spacingAndGlyphs">NADPH</text>
<text x="1021.7" y="1856.2" font-size="27.3" fill="#000" textLength="79" lengthAdjust="spacingAndGlyphs">NADP<tspan dy="-9.8" font-size="16.9">+</tspan></text>
<path d="M967.2 1672.3 L970.2 1667.4 L973.4 1662.6 L976.8 1658.0 L980.3 1653.6 L984.1 1649.4 L988.0 1645.5 L992.1 1641.7 L996.3 1638.1 L1000.7 1634.7 L1005.3 1631.5 L1010.1 1628.6 L1015.0 1625.8 L1020.1 1623.2 L1025.3 1620.9 L1030.7 1618.8 L1036.3 1616.8 L1042.1 1615.1 L1048.0 1613.7 L1054.0 1612.4 L1060.3 1611.3 L1066.6 1610.5 L1073.2 1609.9 L1079.9 1609.5 L1086.7 1609.4 L1086.7 1607.4 L1079.8 1607.6 L1073.0 1608.1 L1066.4 1608.8 L1060.0 1609.7 L1053.7 1610.8 L1047.6 1612.1 L1041.7 1613.7 L1035.9 1615.5 L1030.3 1617.5 L1024.8 1619.7 L1019.6 1622.2 L1014.5 1624.8 L1009.5 1627.7 L1004.8 1630.7 L1000.2 1634.0 L995.8 1637.5 L991.6 1641.1 L987.5 1645.0 L983.7 1649.0 L980.0 1653.3 L976.5 1657.7 L973.1 1662.4 L970.0 1667.2 L967.0 1672.2Z" fill="#222"/>
<path d="M1101.2 1608.4 L1085.2 1615.6 L1085.2 1608.4 L1085.2 1601.1 Z" fill="#222"/>
<path d="M965.6 1727.5 L968.7 1732.5 L972.0 1737.3 L975.5 1742.0 L979.1 1746.4 L983.0 1750.7 L987.0 1754.8 L991.1 1758.7 L995.5 1762.4 L1000.0 1765.9 L1004.7 1769.2 L1009.6 1772.3 L1014.6 1775.2 L1019.9 1777.9 L1025.3 1780.4 L1030.9 1782.6 L1036.7 1784.7 L1042.7 1786.5 L1048.8 1788.2 L1055.1 1789.6 L1061.7 1790.7 L1068.4 1791.7 L1075.3 1792.4 L1082.3 1792.9 L1089.6 1793.2 L1089.6 1791.2 L1082.4 1791.0 L1075.4 1790.6 L1068.6 1789.9 L1061.9 1789.1 L1055.5 1788.0 L1049.2 1786.7 L1043.1 1785.1 L1037.1 1783.4 L1031.4 1781.4 L1025.8 1779.2 L1020.4 1776.8 L1015.2 1774.2 L1010.1 1771.4 L1005.2 1768.4 L1000.5 1765.2 L996.0 1761.8 L991.6 1758.2 L987.4 1754.3 L983.4 1750.3 L979.5 1746.1 L975.8 1741.7 L972.3 1737.1 L968.9 1732.3 L965.7 1727.4Z" fill="#222"/>
<path d="M1104.1 1792.2 L1088.1 1799.4 L1088.1 1792.2 L1088.1 1784.9 Z" fill="#222"/>
<path d="M964.2 1615.7 C996.1 1628.7 1033.9 1620.0 1049.3 1582.3" fill="none" stroke="#4a5aa0" stroke-width="2.5" stroke-linecap="round"/>
<path d="M1051.9 1573.0 L1054.2 1588.6 L1048.7 1584.9 L1042.1 1585.4 Z" fill="#4a5aa0"/>
<path d="M964.2 1777.4 C1001.9 1765.8 1036.8 1776.8 1050.7 1811.1" fill="none" stroke="#4a5aa0" stroke-width="2.5" stroke-linecap="round"/>
<path d="M1054.8 1819.8 L1043.6 1808.7 L1050.2 1808.3 L1055.1 1804.0 Z" fill="#4a5aa0"/>
<text x="1109.4" y="1613" font-size="34.5" fill="#1d5a96" textLength="81.3" lengthAdjust="spacingAndGlyphs" font-weight="bold">2-HG</text>
<text x="1115.2" y="1808.4" font-size="34.5" fill="#1d5a96" textLength="81.3" lengthAdjust="spacingAndGlyphs" font-weight="bold">2-HG</text>
<rect x="1008.6" y="1638.3" width="160.3" height="46.2" fill="#7f88b3" rx="23.1"/>
<text x="1088.8" y="1670" font-size="24.5" text-anchor="middle" fill="#fff" textLength="128" lengthAdjust="spacingAndGlyphs">IDH1/2 mut</text>
<rect x="1008.6" y="1721.6" width="126" height="50" fill="#7f88b3" rx="25"/>
<text x="1071.6" y="1755.2" font-size="24.5" text-anchor="middle" fill="#fff" textLength="93" lengthAdjust="spacingAndGlyphs">MDH1/2</text>
<line x1="1187.8" y1="1650.5" x2="1187.8" y2="1669.4" stroke="#e1362c" stroke-width="2.2"/>
<line x1="1187.8" y1="1659.8" x2="1225.5" y2="1659.8" stroke="#e1362c" stroke-width="2.2"/>
<line x1="1150.6" y1="1732.4" x2="1150.6" y2="1750.7" stroke="#e1362c" stroke-width="2.2"/>
<line x1="1150.6" y1="1741.4" x2="1188.3" y2="1741.4" stroke="#e1362c" stroke-width="2.2"/>
<clipPath id="clipagi"><rect x="1225" y="1632.3" width="140" height="30"/></clipPath>
<text clip-path="url(#clipagi)" x="1232.8" y="1649.5" font-size="29" fill="#e1362c" textLength="116.1" lengthAdjust="spacingAndGlyphs">AGI-5198</text>
<text x="1232.8" y="1682.3" font-size="29" fill="#e1362c" textLength="101.6" lengthAdjust="spacingAndGlyphs">GSK864</text>
<text x="1202.9" y="1733.1" font-size="29" fill="#e1362c" textLength="53.7" lengthAdjust="spacingAndGlyphs">LW6</text>
<text x="1202.9" y="1767" font-size="29" fill="#e1362c" textLength="171.6" lengthAdjust="spacingAndGlyphs">BAY 1436032</text>
</g>
<g id="pf2">
<line x1="1587.4" y1="1482.4" x2="2057" y2="1482.4" stroke="#000" stroke-width="2.2" stroke-dasharray="2.4 4.2"/>
<line x1="1597.3" y1="1484" x2="1618.1" y2="1484" stroke="#000" stroke-width="1.6"/>
<line x1="1627.2" y1="1434.1" x2="1648" y2="1434.1" stroke="#000" stroke-width="1.6"/>
<line x1="1677.4" y1="1547" x2="1698.2" y2="1547" stroke="#000" stroke-width="1.6"/>
<line x1="1706.5" y1="1557.7" x2="1727.3" y2="1557.7" stroke="#000" stroke-width="1.6"/>
<line x1="1756.4" y1="1539.8" x2="1777.2" y2="1539.8" stroke="#000" stroke-width="1.6"/>
<line x1="1787.5" y1="1575.7" x2="1808.3" y2="1575.7" stroke="#000" stroke-width="1.6"/>
<line x1="1836.9" y1="1506.3" x2="1857.7" y2="1506.3" stroke="#000" stroke-width="1.6"/>
<line x1="1866.8" y1="1487.2" x2="1887.6" y2="1487.2" stroke="#000" stroke-width="1.6"/>
<line x1="1917.4" y1="1497.1" x2="1938.2" y2="1497.1" stroke="#000" stroke-width="1.6"/>
<line x1="1946.5" y1="1505.1" x2="1967.3" y2="1505.1" stroke="#000" stroke-width="1.6"/>
<line x1="1997.2" y1="1491.2" x2="2018" y2="1491.2" stroke="#000" stroke-width="1.6"/>
<line x1="2026.7" y1="1515.9" x2="2047.5" y2="1515.9" stroke="#000" stroke-width="1.6"/>
<circle cx="1607.7" cy="1454.1" r="9.3" fill="#f8827c"/>
<circle cx="1607.7" cy="1475.2" r="9.3" fill="#f8827c"/>
<circle cx="1607.7" cy="1484" r="9.3" fill="#f8827c"/>
<circle cx="1607.7" cy="1525" r="9.3" fill="#f8827c"/>
<circle cx="1607.7" cy="1539.8" r="9.3" fill="#f8827c"/>
<circle cx="1607.7" cy="1558.9" r="9.3" fill="#f8827c"/>
<circle cx="1687.8" cy="1504.7" r="9.3" fill="#f8827c"/>
<circle cx="1687.8" cy="1547" r="9.3" fill="#f8827c"/>
<circle cx="1687.8" cy="1551" r="9.3" fill="#f8827c"/>
<circle cx="1766.8" cy="1525" r="9.3" fill="#f8827c"/>
<circle cx="1766.8" cy="1539.8" r="9.3" fill="#f8827c"/>
<circle cx="1766.8" cy="1558.9" r="9.3" fill="#f8827c"/>
<circle cx="1847.3" cy="1488" r="9.3" fill="#f8827c"/>
<circle cx="1847.3" cy="1505.1" r="9.3" fill="#f8827c"/>
<circle cx="1847.3" cy="1525" r="9.3" fill="#f8827c"/>
<circle cx="1847.3" cy="1539.8" r="9.3" fill="#f8827c"/>
<circle cx="1847.3" cy="1558.9" r="9.3" fill="#f8827c"/>
<circle cx="1927.8" cy="1481.2" r="9.3" fill="#f8827c"/>
<circle cx="1927.8" cy="1497.1" r="9.3" fill="#f8827c"/>
<circle cx="1927.8" cy="1525" r="9.3" fill="#f8827c"/>
<circle cx="1927.8" cy="1539.8" r="9.3" fill="#f8827c"/>
<circle cx="1927.8" cy="1558.9" r="9.3" fill="#f8827c"/>
<circle cx="2007.6" cy="1479.2" r="9.3" fill="#f8827c"/>
<circle cx="2007.6" cy="1491.2" r="9.3" fill="#f8827c"/>
<circle cx="2007.6" cy="1503.9" r="9.3" fill="#f8827c"/>
<circle cx="2007.6" cy="1547" r="9.3" fill="#f8827c"/>
<circle cx="2007.6" cy="1551.8" r="9.3" fill="#f8827c"/>
<circle cx="1637.6" cy="1402.7" r="9.3" fill="#06569a"/>
<circle cx="1637.6" cy="1419.4" r="9.3" fill="#06569a"/>
<circle cx="1637.6" cy="1427.4" r="9.3" fill="#06569a"/>
<circle cx="1637.6" cy="1435.3" r="9.3" fill="#06569a"/>
<circle cx="1637.6" cy="1447.3" r="9.3" fill="#06569a"/>
<circle cx="1637.6" cy="1478.4" r="9.3" fill="#06569a"/>
<circle cx="1716.9" cy="1541.8" r="9.3" fill="#06569a"/>
<circle cx="1716.9" cy="1557.7" r="9.3" fill="#06569a"/>
<circle cx="1716.9" cy="1564.9" r="9.3" fill="#06569a"/>
<circle cx="1797.9" cy="1558.9" r="9.3" fill="#06569a"/>
<circle cx="1797.9" cy="1575.7" r="9.3" fill="#06569a"/>
<circle cx="1797.9" cy="1649.4" r="9.3" fill="#06569a"/>
<circle cx="1877.2" cy="1475.2" r="9.3" fill="#06569a"/>
<circle cx="1877.2" cy="1484" r="9.3" fill="#06569a"/>
<circle cx="1877.2" cy="1491.2" r="9.3" fill="#06569a"/>
<circle cx="1877.2" cy="1546.2" r="9.3" fill="#06569a"/>
<circle cx="1877.2" cy="1570.1" r="9.3" fill="#06569a"/>
<circle cx="1877.2" cy="1576.9" r="9.3" fill="#06569a"/>
<circle cx="1956.9" cy="1488" r="9.3" fill="#06569a"/>
<circle cx="1956.9" cy="1497.1" r="9.3" fill="#06569a"/>
<circle cx="1956.9" cy="1505.1" r="9.3" fill="#06569a"/>
<circle cx="1956.9" cy="1547" r="9.3" fill="#06569a"/>
<circle cx="1956.9" cy="1559.7" r="9.3" fill="#06569a"/>
<circle cx="1956.9" cy="1576.9" r="9.3" fill="#06569a"/>
<circle cx="2037.1" cy="1490.4" r="9.3" fill="#06569a"/>
<circle cx="2037.1" cy="1501.1" r="9.3" fill="#06569a"/>
<circle cx="2037.1" cy="1515.9" r="9.3" fill="#06569a"/>
<circle cx="2037.1" cy="1558.9" r="9.3" fill="#06569a"/>
<circle cx="2037.1" cy="1562.9" r="9.3" fill="#06569a"/>
<circle cx="2037.1" cy="1603.6" r="9.3" fill="#06569a"/>
<line x1="1587.4" y1="1341" x2="1587.4" y2="1693.2" stroke="#000" stroke-width="3.1"/>
<line x1="1585.9" y1="1691.7" x2="2057" y2="1691.7" stroke="#000" stroke-width="3.1"/>
<line x1="1573.4" y1="1342.5" x2="1587.4" y2="1342.5" stroke="#000" stroke-width="3.1"/>
<text x="1568.5" y="1354.5" font-size="34" text-anchor="end">2</text>
<line x1="1573.4" y1="1412.6" x2="1587.4" y2="1412.6" stroke="#000" stroke-width="3.1"/>
<text x="1568.5" y="1424.6" font-size="34" text-anchor="end">1</text>
<line x1="1573.4" y1="1482.4" x2="1587.4" y2="1482.4" stroke="#000" stroke-width="3.1"/>
<text x="1568.5" y="1494.4" font-size="34" text-anchor="end">0</text>
<line x1="1573.4" y1="1552.2" x2="1587.4" y2="1552.2" stroke="#000" stroke-width="3.1"/>
<text x="1568.5" y="1564.2" font-size="34" text-anchor="end">-1</text>
<line x1="1573.4" y1="1621.9" x2="1587.4" y2="1621.9" stroke="#000" stroke-width="3.1"/>
<text x="1568.5" y="1633.9" font-size="34" text-anchor="end">-2</text>
<line x1="1573.4" y1="1691.7" x2="1587.4" y2="1691.7" stroke="#000" stroke-width="3.1"/>
<text x="1568.5" y="1703.7" font-size="34" text-anchor="end">-3</text>
<line x1="1622.5" y1="1691.7" x2="1622.5" y2="1705.7" stroke="#000" stroke-width="3.1"/>
<text transform="translate(1632.5 1735.7) rotate(-45)" font-size="36.6" text-anchor="end">CBR</text>
<line x1="1702.2" y1="1691.7" x2="1702.2" y2="1705.7" stroke="#000" stroke-width="3.1"/>
<text transform="translate(1712.2 1735.7) rotate(-45)" font-size="36.6" text-anchor="end">BAY</text>
<line x1="1782.3" y1="1691.7" x2="1782.3" y2="1705.7" stroke="#000" stroke-width="3.1"/>
<text transform="translate(1792.3 1735.7) rotate(-45)" font-size="36.6" text-anchor="end">LW6</text>
<line x1="1862.4" y1="1691.7" x2="1862.4" y2="1705.7" stroke="#000" stroke-width="3.1"/>
<text transform="translate(1872.4 1735.7) rotate(-45)" font-size="36.6" text-anchor="end">AGI</text>
<line x1="1942.6" y1="1691.7" x2="1942.6" y2="1705.7" stroke="#000" stroke-width="3.1"/>
<text transform="translate(1952.6 1735.7) rotate(-45)" font-size="36.6" text-anchor="end">NHI-2</text>
<line x1="2022.7" y1="1691.7" x2="2022.7" y2="1705.7" stroke="#000" stroke-width="3.1"/>
<text transform="translate(2032.7 1735.7) rotate(-45)" font-size="36.6" text-anchor="end">GSK864</text>
<text transform="translate(1457 1515) rotate(-90)" font-size="34.8" text-anchor="middle">IL-17A expression</text>
<text transform="translate(1500 1513) rotate(-90)" font-size="32.6" text-anchor="middle">log2 FC (treatment vs vehicle)</text>
<circle cx="1930.2" cy="1311.8" r="8.8" fill="#f8827c"/>
<circle cx="1930.2" cy="1358.4" r="8.8" fill="#06569a"/>
<text x="1970" y="1322" font-size="28">Control</text>
<text x="1970" y="1370.5" font-size="28"><tspan font-style="italic">Opa1</tspan><tspan dy="-10" font-size="20">CD4Cre</tspan></text>
<text x="1603" y="1347.6" font-size="29.5"><tspan font-style="italic">P</tspan> = 0.0037</text>
<path d="M1607.7 1420.2 L1607.7 1362.4 L1636.8 1362.4 L1636.8 1380.3" fill="none" stroke="#000" stroke-width="1.3"/>
</g>
<g id="pg">
<text x="6" y="1883.7" font-size="58">g</text>
<rect x="284.4" y="2235" width="19.8" height="118.9" fill="#d6d6d6"/>
<rect x="313.9" y="2298.7" width="19.8" height="55.2" fill="#d6d6d6"/>
<rect x="343.5" y="2213.7" width="19.8" height="140.2" fill="#d6d6d6"/>
<rect x="373" y="2254.3" width="19.8" height="99.6" fill="#d6d6d6"/>
<rect x="422.3" y="2197.8" width="19.8" height="156.1" fill="#d6d6d6"/>
<rect x="451.9" y="2274.3" width="19.8" height="79.6" fill="#d6d6d6"/>
<rect x="481.7" y="2163.6" width="19.8" height="190.3" fill="#d6d6d6"/>
<rect x="511.3" y="2186.7" width="19.8" height="167.2" fill="#d6d6d6"/>
<line x1="275.4" y1="2067.9" x2="275.4" y2="2354.8" stroke="#000" stroke-width="1.9"/>
<line x1="266.9" y1="2353.9" x2="541.2" y2="2353.9" stroke="#000" stroke-width="1.9"/>
<line x1="266.9" y1="2068.8" x2="275.4" y2="2068.8" stroke="#000" stroke-width="1.9"/>
<text x="261.8" y="2080.3" font-size="31" text-anchor="end">40</text>
<line x1="266.9" y1="2140.2" x2="275.4" y2="2140.2" stroke="#000" stroke-width="1.9"/>
<text x="261.8" y="2151.7" font-size="31" text-anchor="end">30</text>
<line x1="266.9" y1="2211.6" x2="275.4" y2="2211.6" stroke="#000" stroke-width="1.9"/>
<text x="261.8" y="2223.1" font-size="31" text-anchor="end">20</text>
<line x1="266.9" y1="2282.8" x2="275.4" y2="2282.8" stroke="#000" stroke-width="1.9"/>
<text x="261.8" y="2294.2" font-size="31" text-anchor="end">10</text>
<line x1="266.9" y1="2353.9" x2="275.4" y2="2353.9" stroke="#000" stroke-width="1.9"/>
<text x="261.8" y="2365.4" font-size="31" text-anchor="end">0</text>
<line x1="338.9" y1="2353.9" x2="338.9" y2="2362.1" stroke="#000" stroke-width="1.9"/>
<text x="338.9" y="2395.2" font-size="24.5" text-anchor="middle">1.00</text>
<line x1="476.8" y1="2353.9" x2="476.8" y2="2362.1" stroke="#000" stroke-width="1.9"/>
<text x="476.8" y="2395.2" font-size="24.5" text-anchor="middle">6.00</text>
<text x="408.2" y="2426.3" font-size="24.4" text-anchor="middle">Time (h)</text>
<line x1="294.3" y1="2231.2" x2="294.3" y2="2238.3" stroke="#f47f7d" stroke-width="1.3"/>
<line x1="289.1" y1="2231.2" x2="299.5" y2="2231.2" stroke="#f47f7d" stroke-width="1.3"/>
<line x1="289.1" y1="2238.3" x2="299.5" y2="2238.3" stroke="#f47f7d" stroke-width="1.3"/>
<line x1="323.8" y1="2289.7" x2="323.8" y2="2307.4" stroke="#000" stroke-width="1.3"/>
<line x1="318.6" y1="2289.7" x2="329" y2="2289.7" stroke="#000" stroke-width="1.3"/>
<line x1="318.6" y1="2307.4" x2="329" y2="2307.4" stroke="#000" stroke-width="1.3"/>
<line x1="353.4" y1="2202.9" x2="353.4" y2="2224.2" stroke="#0a5596" stroke-width="1.3"/>
<line x1="348.2" y1="2202.9" x2="358.6" y2="2202.9" stroke="#0a5596" stroke-width="1.3"/>
<line x1="348.2" y1="2224.2" x2="358.6" y2="2224.2" stroke="#0a5596" stroke-width="1.3"/>
<line x1="382.9" y1="2248.6" x2="382.9" y2="2258.1" stroke="#8585f7" stroke-width="1.3"/>
<line x1="377.7" y1="2248.6" x2="388.1" y2="2248.6" stroke="#8585f7" stroke-width="1.3"/>
<line x1="377.7" y1="2258.1" x2="388.1" y2="2258.1" stroke="#8585f7" stroke-width="1.3"/>
<line x1="432.2" y1="2193.1" x2="432.2" y2="2202.9" stroke="#f47f7d" stroke-width="1.3"/>
<line x1="427" y1="2193.1" x2="437.4" y2="2193.1" stroke="#f47f7d" stroke-width="1.3"/>
<line x1="427" y1="2202.9" x2="437.4" y2="2202.9" stroke="#f47f7d" stroke-width="1.3"/>
<line x1="461.8" y1="2265.8" x2="461.8" y2="2285.1" stroke="#000" stroke-width="1.3"/>
<line x1="456.6" y1="2265.8" x2="467" y2="2265.8" stroke="#000" stroke-width="1.3"/>
<line x1="456.6" y1="2285.1" x2="467" y2="2285.1" stroke="#000" stroke-width="1.3"/>
<line x1="491.6" y1="2156.2" x2="491.6" y2="2170.8" stroke="#0a5596" stroke-width="1.3"/>
<line x1="486.4" y1="2156.2" x2="496.8" y2="2156.2" stroke="#0a5596" stroke-width="1.3"/>
<line x1="486.4" y1="2170.8" x2="496.8" y2="2170.8" stroke="#0a5596" stroke-width="1.3"/>
<line x1="521.2" y1="2177.7" x2="521.2" y2="2195.7" stroke="#8585f7" stroke-width="1.3"/>
<line x1="516" y1="2177.7" x2="526.4" y2="2177.7" stroke="#8585f7" stroke-width="1.3"/>
<line x1="516" y1="2195.7" x2="526.4" y2="2195.7" stroke="#8585f7" stroke-width="1.3"/>
<circle cx="290.1" cy="2238.3" r="5.1" fill="#f47f7d"/>
<circle cx="294.4" cy="2229.4" r="5.1" fill="#f47f7d"/>
<circle cx="299" cy="2233.7" r="5.1" fill="#f47f7d"/>
<circle cx="324.2" cy="2284.6" r="5.1" fill="#000"/>
<circle cx="324.2" cy="2298.7" r="5.1" fill="#000"/>
<circle cx="324.2" cy="2314.6" r="5.1" fill="#000"/>
<circle cx="353.8" cy="2198.3" r="5.1" fill="#0a5596"/>
<circle cx="353.8" cy="2208" r="5.1" fill="#0a5596"/>
<circle cx="353.8" cy="2234.2" r="5.1" fill="#0a5596"/>
<circle cx="378.7" cy="2244" r="5.1" fill="#8585f7"/>
<circle cx="378.7" cy="2255.6" r="5.1" fill="#8585f7"/>
<circle cx="388.2" cy="2255" r="5.1" fill="#8585f7"/>
<circle cx="427.5" cy="2189.5" r="5.1" fill="#f47f7d"/>
<circle cx="427.5" cy="2206.8" r="5.1" fill="#f47f7d"/>
<circle cx="437" cy="2199" r="5.1" fill="#f47f7d"/>
<circle cx="457.5" cy="2259.9" r="5.1" fill="#000"/>
<circle cx="467.3" cy="2265.8" r="5.1" fill="#000"/>
<circle cx="462.4" cy="2297.4" r="5.1" fill="#000"/>
<circle cx="491.7" cy="2149" r="5.1" fill="#0a5596"/>
<circle cx="486.5" cy="2172.6" r="5.1" fill="#0a5596"/>
<circle cx="496" cy="2169.5" r="5.1" fill="#0a5596"/>
<circle cx="521.2" cy="2173.4" r="5.1" fill="#8585f7"/>
<circle cx="521.2" cy="2184.4" r="5.1" fill="#8585f7"/>
<circle cx="521.2" cy="2202.9" r="5.1" fill="#8585f7"/>
<path d="M294.4 2215.2 L294.4 2209.3 L324.7 2209.3 L324.7 2265.8" fill="none" stroke="#000" stroke-width="1.2"/>
<text transform="translate(317 2200.3) rotate(-90)" font-size="21"><tspan font-style="italic">P</tspan> =0.0001</text>
<path d="M353.8 2179 L353.8 2172.6 L383.3 2172.6 L383.3 2232.4" fill="none" stroke="#000" stroke-width="1.2"/>
<text transform="translate(378.7 2161.8) rotate(-90)" font-size="21"><tspan font-style="italic">P</tspan> =0.0155</text>
<path d="M432.6 2174.7 L432.6 2170.8 L463.4 2170.8 L463.4 2247.8" fill="none" stroke="#000" stroke-width="1.2"/>
<text transform="translate(456.5 2161.3) rotate(-90)" font-size="21"><tspan font-style="italic">P</tspan> &lt;0.0001</text>
<path d="M493 2134.8 L493 2132.3 L521.2 2132.3 L521.2 2160.5" fill="none" stroke="#000" stroke-width="1.2"/>
<text transform="translate(514 2122.8) rotate(-90)" font-size="21"><tspan font-style="italic">P</tspan> =0.2133</text>
<text x="408.2" y="1961.1" font-size="36.9" text-anchor="middle">Glutamate (m+5)</text>
<text transform="translate(147.5 2201.6) rotate(-90)" font-size="31.2" text-anchor="middle">U-[<tspan dy="-10.5" font-size="20.3">13</tspan><tspan dy="10.5">C]-</tspan><tspan font-weight="bold">Glutamine</tspan></text>
<text transform="translate(182.2 2202.9) rotate(-90)" font-size="31.2" text-anchor="middle">enrichment (%)</text>
<rect x="680.4" y="2338.9" width="19.9" height="28.1" fill="#d6d6d6"/>
<rect x="710.2" y="2360" width="19.9" height="7" fill="#d6d6d6"/>
<rect x="740.2" y="2299.5" width="19.9" height="67.5" fill="#d6d6d6"/>
<rect x="769.5" y="2357.6" width="19.9" height="9.4" fill="#d6d6d6"/>
<rect x="818.5" y="2311.9" width="19.9" height="55.1" fill="#d6d6d6"/>
<rect x="848.1" y="2342.8" width="19.9" height="24.2" fill="#d6d6d6"/>
<rect x="877.6" y="2196.3" width="19.9" height="170.7" fill="#d6d6d6"/>
<rect x="907.4" y="2286.6" width="19.9" height="80.4" fill="#d6d6d6"/>
<line x1="671.5" y1="2081.9" x2="671.5" y2="2367.9" stroke="#000" stroke-width="1.9"/>
<line x1="663.2" y1="2367" x2="936.9" y2="2367" stroke="#000" stroke-width="1.9"/>
<line x1="663" y1="2082.8" x2="671.5" y2="2082.8" stroke="#000" stroke-width="1.9"/>
<text x="657.4" y="2095.8" font-size="35.2" text-anchor="end">50</text>
<line x1="663" y1="2140" x2="671.5" y2="2140" stroke="#000" stroke-width="1.9"/>
<text x="657.4" y="2153" font-size="35.2" text-anchor="end">40</text>
<line x1="663" y1="2196.7" x2="671.5" y2="2196.7" stroke="#000" stroke-width="1.9"/>
<text x="657.4" y="2209.8" font-size="35.2" text-anchor="end">30</text>
<line x1="663" y1="2253.5" x2="671.5" y2="2253.5" stroke="#000" stroke-width="1.9"/>
<text x="657.4" y="2266.5" font-size="35.2" text-anchor="end">20</text>
<line x1="663" y1="2310.3" x2="671.5" y2="2310.3" stroke="#000" stroke-width="1.9"/>
<text x="657.4" y="2323.3" font-size="35.2" text-anchor="end">10</text>
<line x1="663" y1="2367" x2="671.5" y2="2367" stroke="#000" stroke-width="1.9"/>
<text x="657.4" y="2380" font-size="35.2" text-anchor="end">0</text>
<line x1="734.3" y1="2367" x2="734.3" y2="2375.2" stroke="#000" stroke-width="1.9"/>
<text x="734.3" y="2402.6" font-size="24.1" text-anchor="middle">1.00</text>
<line x1="872.7" y1="2367" x2="872.7" y2="2375.2" stroke="#000" stroke-width="1.9"/>
<text x="872.7" y="2402.6" font-size="24.1" text-anchor="middle">6.00</text>
<text x="804.2" y="2439.8" font-size="24.4" text-anchor="middle">Time (h)</text>
<line x1="720.1" y1="2355.3" x2="720.1" y2="2364" stroke="#000" stroke-width="1.3"/>
<line x1="714.9" y1="2355.3" x2="725.3" y2="2355.3" stroke="#000" stroke-width="1.3"/>
<line x1="714.9" y1="2364" x2="725.3" y2="2364" stroke="#000" stroke-width="1.3"/>
<line x1="750.1" y1="2273.2" x2="750.1" y2="2326.4" stroke="#0a5596" stroke-width="1.3"/>
<line x1="744.9" y1="2273.2" x2="755.3" y2="2273.2" stroke="#0a5596" stroke-width="1.3"/>
<line x1="744.9" y1="2326.4" x2="755.3" y2="2326.4" stroke="#0a5596" stroke-width="1.3"/>
<line x1="779.4" y1="2348.2" x2="779.4" y2="2358.1" stroke="#8585f7" stroke-width="1.3"/>
<line x1="774.2" y1="2348.2" x2="784.6" y2="2348.2" stroke="#8585f7" stroke-width="1.3"/>
<line x1="774.2" y1="2358.1" x2="784.6" y2="2358.1" stroke="#8585f7" stroke-width="1.3"/>
<line x1="828.5" y1="2307.2" x2="828.5" y2="2315.4" stroke="#f47f7d" stroke-width="1.3"/>
<line x1="823.3" y1="2307.2" x2="833.7" y2="2307.2" stroke="#f47f7d" stroke-width="1.3"/>
<line x1="823.3" y1="2315.4" x2="833.7" y2="2315.4" stroke="#f47f7d" stroke-width="1.3"/>
<line x1="858" y1="2331.4" x2="858" y2="2353.4" stroke="#000" stroke-width="1.3"/>
<line x1="852.8" y1="2331.4" x2="863.2" y2="2331.4" stroke="#000" stroke-width="1.3"/>
<line x1="852.8" y1="2353.4" x2="863.2" y2="2353.4" stroke="#000" stroke-width="1.3"/>
<line x1="887.6" y1="2183.6" x2="887.6" y2="2208.2" stroke="#0a5596" stroke-width="1.3"/>
<line x1="882.4" y1="2183.6" x2="892.8" y2="2183.6" stroke="#0a5596" stroke-width="1.3"/>
<line x1="882.4" y1="2208.2" x2="892.8" y2="2208.2" stroke="#0a5596" stroke-width="1.3"/>
<line x1="917.3" y1="2270.1" x2="917.3" y2="2301.3" stroke="#8585f7" stroke-width="1.3"/>
<line x1="912.1" y1="2270.1" x2="922.5" y2="2270.1" stroke="#8585f7" stroke-width="1.3"/>
<line x1="912.1" y1="2301.3" x2="922.5" y2="2301.3" stroke="#8585f7" stroke-width="1.3"/>
<circle cx="685.5" cy="2338.4" r="5.1" fill="#f47f7d"/>
<circle cx="690.2" cy="2337.2" r="5.1" fill="#f47f7d"/>
<circle cx="695.4" cy="2338.4" r="5.1" fill="#f47f7d"/>
<circle cx="720.2" cy="2350.1" r="5.1" fill="#000"/>
<circle cx="715.3" cy="2367" r="5.1" fill="#000"/>
<circle cx="724.9" cy="2364" r="5.1" fill="#000"/>
<circle cx="744.9" cy="2269.2" r="5.1" fill="#0a5596"/>
<circle cx="754.7" cy="2274.8" r="5.1" fill="#0a5596"/>
<circle cx="749.8" cy="2353.4" r="5.1" fill="#0a5596"/>
<circle cx="779.3" cy="2344" r="5.1" fill="#8585f7"/>
<circle cx="774.2" cy="2358.8" r="5.1" fill="#8585f7"/>
<circle cx="784.5" cy="2358.1" r="5.1" fill="#8585f7"/>
<circle cx="823.9" cy="2304.9" r="5.1" fill="#f47f7d"/>
<circle cx="833.3" cy="2310.7" r="5.1" fill="#f47f7d"/>
<circle cx="823.9" cy="2318.5" r="5.1" fill="#f47f7d"/>
<circle cx="858.1" cy="2326" r="5.1" fill="#000"/>
<circle cx="858.1" cy="2338.4" r="5.1" fill="#000"/>
<circle cx="858.1" cy="2364.7" r="5.1" fill="#000"/>
<circle cx="887.7" cy="2175.9" r="5.1" fill="#0a5596"/>
<circle cx="887.7" cy="2193" r="5.1" fill="#0a5596"/>
<circle cx="887.7" cy="2219.3" r="5.1" fill="#0a5596"/>
<circle cx="917.2" cy="2260.8" r="5.1" fill="#8585f7"/>
<circle cx="917.2" cy="2282.1" r="5.1" fill="#8585f7"/>
<circle cx="917.2" cy="2315.4" r="5.1" fill="#8585f7"/>
<path d="M749.8 2247.9 L749.8 2238 L779.6 2238 L779.6 2306" fill="none" stroke="#000" stroke-width="1.2"/>
<text transform="translate(774.2 2226.3) rotate(-90)" font-size="21.7"><tspan font-style="italic">P</tspan> =0.0406</text>
<path d="M887.7 2165.3 L887.7 2154.1 L917.7 2154.1 L917.7 2232.2" fill="none" stroke="#000" stroke-width="1.2"/>
<text transform="translate(911.1 2145.4) rotate(-90)" font-size="21.7"><tspan font-style="italic">P</tspan> =0.0008</text>
<text x="804.5" y="1965.1" font-size="36.9" text-anchor="middle"><tspan font-family="Liberation Serif,serif" font-size="41.5">α</tspan>-KG (m+5)</text>
<rect x="1056.2" y="2208.1" width="19.9" height="149.4" fill="#d6d6d6"/>
<rect x="1086" y="2305.4" width="19.9" height="52.1" fill="#d6d6d6"/>
<rect x="1115.6" y="2194" width="19.9" height="163.5" fill="#d6d6d6"/>
<rect x="1145.3" y="2250.3" width="19.9" height="107.2" fill="#d6d6d6"/>
<rect x="1195.1" y="2158.8" width="19.9" height="198.7" fill="#d6d6d6"/>
<rect x="1224.6" y="2276.1" width="19.9" height="81.4" fill="#d6d6d6"/>
<rect x="1254.4" y="2154.2" width="19.9" height="203.3" fill="#d6d6d6"/>
<rect x="1284.2" y="2210.4" width="19.9" height="147.1" fill="#d6d6d6"/>
<line x1="1046.1" y1="2070.7" x2="1046.1" y2="2358.4" stroke="#000" stroke-width="1.9"/>
<line x1="1037.5" y1="2357.5" x2="1314.2" y2="2357.5" stroke="#000" stroke-width="1.9"/>
<line x1="1037.6" y1="2071.6" x2="1046.1" y2="2071.6" stroke="#000" stroke-width="1.9"/>
<text x="1032" y="2084.6" font-size="35.2" text-anchor="end">30</text>
<line x1="1037.6" y1="2167.1" x2="1046.1" y2="2167.1" stroke="#000" stroke-width="1.9"/>
<text x="1032" y="2180.1" font-size="35.2" text-anchor="end">20</text>
<line x1="1037.6" y1="2262.3" x2="1046.1" y2="2262.3" stroke="#000" stroke-width="1.9"/>
<text x="1032" y="2275.3" font-size="35.2" text-anchor="end">10</text>
<line x1="1037.6" y1="2357.5" x2="1046.1" y2="2357.5" stroke="#000" stroke-width="1.9"/>
<text x="1032" y="2370.5" font-size="35.2" text-anchor="end">0</text>
<line x1="1109.7" y1="2357.5" x2="1109.7" y2="2365.7" stroke="#000" stroke-width="1.9"/>
<text x="1109.7" y="2395.5" font-size="26" text-anchor="middle">1.00</text>
<line x1="1249.2" y1="2357.5" x2="1249.2" y2="2365.7" stroke="#000" stroke-width="1.9"/>
<text x="1249.2" y="2395.5" font-size="26" text-anchor="middle">6.00</text>
<text x="1181" y="2432.2" font-size="27.4" text-anchor="middle">Time (h)</text>
<line x1="1066.2" y1="2201.1" x2="1066.2" y2="2216.3" stroke="#f47f7d" stroke-width="1.3"/>
<line x1="1061" y1="2201.1" x2="1071.4" y2="2201.1" stroke="#f47f7d" stroke-width="1.3"/>
<line x1="1061" y1="2216.3" x2="1071.4" y2="2216.3" stroke="#f47f7d" stroke-width="1.3"/>
<line x1="1096" y1="2294.2" x2="1096" y2="2316.7" stroke="#000" stroke-width="1.3"/>
<line x1="1090.8" y1="2294.2" x2="1101.2" y2="2294.2" stroke="#000" stroke-width="1.3"/>
<line x1="1090.8" y1="2316.7" x2="1101.2" y2="2316.7" stroke="#000" stroke-width="1.3"/>
<line x1="1125.5" y1="2181.1" x2="1125.5" y2="2206.9" stroke="#0a5596" stroke-width="1.3"/>
<line x1="1120.3" y1="2181.1" x2="1130.7" y2="2181.1" stroke="#0a5596" stroke-width="1.3"/>
<line x1="1120.3" y1="2206.9" x2="1130.7" y2="2206.9" stroke="#0a5596" stroke-width="1.3"/>
<line x1="1155.3" y1="2244.4" x2="1155.3" y2="2255" stroke="#8585f7" stroke-width="1.3"/>
<line x1="1150.1" y1="2244.4" x2="1160.5" y2="2244.4" stroke="#8585f7" stroke-width="1.3"/>
<line x1="1150.1" y1="2255" x2="1160.5" y2="2255" stroke="#8585f7" stroke-width="1.3"/>
<line x1="1205" y1="2148.3" x2="1205" y2="2169.4" stroke="#f47f7d" stroke-width="1.3"/>
<line x1="1199.8" y1="2148.3" x2="1210.2" y2="2148.3" stroke="#f47f7d" stroke-width="1.3"/>
<line x1="1199.8" y1="2169.4" x2="1210.2" y2="2169.4" stroke="#f47f7d" stroke-width="1.3"/>
<line x1="1234.6" y1="2269.1" x2="1234.6" y2="2292.5" stroke="#000" stroke-width="1.3"/>
<line x1="1229.4" y1="2269.1" x2="1239.8" y2="2269.1" stroke="#000" stroke-width="1.3"/>
<line x1="1229.4" y1="2292.5" x2="1239.8" y2="2292.5" stroke="#000" stroke-width="1.3"/>
<line x1="1264.3" y1="2148.8" x2="1264.3" y2="2158.4" stroke="#0a5596" stroke-width="1.3"/>
<line x1="1259.1" y1="2148.8" x2="1269.5" y2="2148.8" stroke="#0a5596" stroke-width="1.3"/>
<line x1="1259.1" y1="2158.4" x2="1269.5" y2="2158.4" stroke="#0a5596" stroke-width="1.3"/>
<line x1="1294.1" y1="2206.9" x2="1294.1" y2="2214.7" stroke="#8585f7" stroke-width="1.3"/>
<line x1="1288.9" y1="2206.9" x2="1299.3" y2="2206.9" stroke="#8585f7" stroke-width="1.3"/>
<line x1="1288.9" y1="2214.7" x2="1299.3" y2="2214.7" stroke="#8585f7" stroke-width="1.3"/>
<circle cx="1061.4" cy="2195.9" r="5.1" fill="#f47f7d"/>
<circle cx="1070.8" cy="2205.7" r="5.1" fill="#f47f7d"/>
<circle cx="1066.1" cy="2223.3" r="5.1" fill="#f47f7d"/>
<circle cx="1096.1" cy="2287.1" r="5.1" fill="#000"/>
<circle cx="1096.1" cy="2304.2" r="5.1" fill="#000"/>
<circle cx="1096.1" cy="2326" r="5.1" fill="#000"/>
<circle cx="1125.6" cy="2176.4" r="5.1" fill="#0a5596"/>
<circle cx="1125.6" cy="2188.2" r="5.1" fill="#0a5596"/>
<circle cx="1125.6" cy="2218.6" r="5.1" fill="#0a5596"/>
<circle cx="1150.7" cy="2242.8" r="5.1" fill="#8585f7"/>
<circle cx="1160.1" cy="2249.8" r="5.1" fill="#8585f7"/>
<circle cx="1150.7" cy="2259.2" r="5.1" fill="#8585f7"/>
<circle cx="1205.1" cy="2139.4" r="5.1" fill="#f47f7d"/>
<circle cx="1205.1" cy="2161.2" r="5.1" fill="#f47f7d"/>
<circle cx="1205.1" cy="2176.9" r="5.1" fill="#f47f7d"/>
<circle cx="1230.2" cy="2254.5" r="5.1" fill="#000"/>
<circle cx="1239.6" cy="2263.9" r="5.1" fill="#000"/>
<circle cx="1235.1" cy="2308.9" r="5.1" fill="#000"/>
<circle cx="1264.5" cy="2143.1" r="5.1" fill="#0a5596"/>
<circle cx="1259.5" cy="2158.1" r="5.1" fill="#0a5596"/>
<circle cx="1269.6" cy="2158.1" r="5.1" fill="#0a5596"/>
<circle cx="1289.5" cy="2202.7" r="5.1" fill="#8585f7"/>
<circle cx="1298.9" cy="2206.9" r="5.1" fill="#8585f7"/>
<circle cx="1294.2" cy="2220.5" r="5.1" fill="#8585f7"/>
<path d="M1064.4 2185.8 L1064.4 2175.3 L1095.6 2175.3 L1095.6 2252.6" fill="none" stroke="#000" stroke-width="1.2"/>
<text transform="translate(1088.3 2163.5) rotate(-90)" font-size="21.4"><tspan font-style="italic">P</tspan> &lt;0.0001</text>
<path d="M1125.4 2165.9 L1125.4 2161.2 L1155.9 2161.2 L1155.9 2223.3" fill="none" stroke="#000" stroke-width="1.2"/>
<text transform="translate(1150 2145.9) rotate(-90)" font-size="21.4"><tspan font-style="italic">P</tspan> =0.0062</text>
<path d="M1205.1 2129.5 L1205.1 2125.3 L1234.9 2125.3 L1234.9 2223.3" fill="none" stroke="#000" stroke-width="1.2"/>
<text transform="translate(1224.4 2113.1) rotate(-90)" font-size="21.4"><tspan font-style="italic">P</tspan> &lt;0.0001</text>
<path d="M1264.5 2130.7 L1264.5 2129.1 L1294.2 2129.1 L1294.2 2185.8" fill="none" stroke="#000" stroke-width="1.2"/>
<text transform="translate(1287.9 2117.8) rotate(-90)" font-size="21.4"><tspan font-style="italic">P</tspan> =0.0056</text>
<text x="1180.4" y="1958.1" font-size="36.9" text-anchor="middle">Malate (m+4)</text>
<rect x="1482.8" y="2232.7" width="19.9" height="118" fill="#d6d6d6"/>
<rect x="1512.6" y="2316.4" width="19.9" height="34.3" fill="#d6d6d6"/>
<rect x="1541.9" y="2224.5" width="19.9" height="126.2" fill="#d6d6d6"/>
<rect x="1571.7" y="2274.9" width="19.9" height="75.8" fill="#d6d6d6"/>
<rect x="1621.2" y="2182.8" width="19.9" height="167.9" fill="#d6d6d6"/>
<rect x="1650.5" y="2290.9" width="19.9" height="59.8" fill="#d6d6d6"/>
<rect x="1679.8" y="2189.3" width="19.9" height="161.4" fill="#d6d6d6"/>
<rect x="1709.6" y="2243.3" width="19.9" height="107.4" fill="#d6d6d6"/>
<line x1="1473.4" y1="2066" x2="1473.4" y2="2351.6" stroke="#000" stroke-width="1.9"/>
<line x1="1465.2" y1="2350.7" x2="1738.4" y2="2350.7" stroke="#000" stroke-width="1.9"/>
<line x1="1464.9" y1="2066.9" x2="1473.4" y2="2066.9" stroke="#000" stroke-width="1.9"/>
<text x="1459.1" y="2078.8" font-size="32" text-anchor="end">25</text>
<line x1="1464.9" y1="2124.1" x2="1473.4" y2="2124.1" stroke="#000" stroke-width="1.9"/>
<text x="1459.1" y="2136" font-size="32" text-anchor="end">20</text>
<line x1="1464.9" y1="2180.9" x2="1473.4" y2="2180.9" stroke="#000" stroke-width="1.9"/>
<text x="1459.1" y="2192.7" font-size="32" text-anchor="end">15</text>
<line x1="1464.9" y1="2237.6" x2="1473.4" y2="2237.6" stroke="#000" stroke-width="1.9"/>
<text x="1459.1" y="2249.5" font-size="32" text-anchor="end">10</text>
<line x1="1464.9" y1="2294.2" x2="1473.4" y2="2294.2" stroke="#000" stroke-width="1.9"/>
<text x="1459.1" y="2306" font-size="32" text-anchor="end">5</text>
<line x1="1464.9" y1="2350.7" x2="1473.4" y2="2350.7" stroke="#000" stroke-width="1.9"/>
<text x="1459.1" y="2362.5" font-size="32" text-anchor="end">0</text>
<line x1="1536.7" y1="2350.7" x2="1536.7" y2="2358.9" stroke="#000" stroke-width="1.9"/>
<text x="1536.7" y="2387.1" font-size="25.3" text-anchor="middle">1.00</text>
<line x1="1674.8" y1="2350.7" x2="1674.8" y2="2358.9" stroke="#000" stroke-width="1.9"/>
<text x="1674.8" y="2387.1" font-size="25.3" text-anchor="middle">6.00</text>
<text x="1605.7" y="2423.5" font-size="24.9" text-anchor="middle">Time (h)</text>
<line x1="1492.7" y1="2226.9" x2="1492.7" y2="2239" stroke="#f47f7d" stroke-width="1.3"/>
<line x1="1487.5" y1="2226.9" x2="1497.9" y2="2226.9" stroke="#f47f7d" stroke-width="1.3"/>
<line x1="1487.5" y1="2239" x2="1497.9" y2="2239" stroke="#f47f7d" stroke-width="1.3"/>
<line x1="1522.5" y1="2306.6" x2="1522.5" y2="2326.5" stroke="#000" stroke-width="1.3"/>
<line x1="1517.3" y1="2306.6" x2="1527.7" y2="2306.6" stroke="#000" stroke-width="1.3"/>
<line x1="1517.3" y1="2326.5" x2="1527.7" y2="2326.5" stroke="#000" stroke-width="1.3"/>
<line x1="1551.8" y1="2211.1" x2="1551.8" y2="2237.4" stroke="#0a5596" stroke-width="1.3"/>
<line x1="1546.6" y1="2211.1" x2="1557" y2="2211.1" stroke="#0a5596" stroke-width="1.3"/>
<line x1="1546.6" y1="2237.4" x2="1557" y2="2237.4" stroke="#0a5596" stroke-width="1.3"/>
<line x1="1581.6" y1="2267.9" x2="1581.6" y2="2277.3" stroke="#8585f7" stroke-width="1.3"/>
<line x1="1576.4" y1="2267.9" x2="1586.8" y2="2267.9" stroke="#8585f7" stroke-width="1.3"/>
<line x1="1576.4" y1="2277.3" x2="1586.8" y2="2277.3" stroke="#8585f7" stroke-width="1.3"/>
<line x1="1631.1" y1="2168.2" x2="1631.1" y2="2196.8" stroke="#f47f7d" stroke-width="1.3"/>
<line x1="1625.9" y1="2168.2" x2="1636.3" y2="2168.2" stroke="#f47f7d" stroke-width="1.3"/>
<line x1="1625.9" y1="2196.8" x2="1636.3" y2="2196.8" stroke="#f47f7d" stroke-width="1.3"/>
<line x1="1660.4" y1="2278" x2="1660.4" y2="2303.5" stroke="#000" stroke-width="1.3"/>
<line x1="1655.2" y1="2278" x2="1665.6" y2="2278" stroke="#000" stroke-width="1.3"/>
<line x1="1655.2" y1="2303.5" x2="1665.6" y2="2303.5" stroke="#000" stroke-width="1.3"/>
<line x1="1689.7" y1="2176.4" x2="1689.7" y2="2188.9" stroke="#0a5596" stroke-width="1.3"/>
<line x1="1684.5" y1="2176.4" x2="1694.9" y2="2176.4" stroke="#0a5596" stroke-width="1.3"/>
<line x1="1684.5" y1="2188.9" x2="1694.9" y2="2188.9" stroke="#0a5596" stroke-width="1.3"/>
<line x1="1719.5" y1="2238.6" x2="1719.5" y2="2246.8" stroke="#8585f7" stroke-width="1.3"/>
<line x1="1714.3" y1="2238.6" x2="1724.7" y2="2238.6" stroke="#8585f7" stroke-width="1.3"/>
<line x1="1714.3" y1="2246.8" x2="1724.7" y2="2246.8" stroke="#8585f7" stroke-width="1.3"/>
<circle cx="1487.9" cy="2222.6" r="5.1" fill="#f47f7d"/>
<circle cx="1497.3" cy="2230.8" r="5.1" fill="#f47f7d"/>
<circle cx="1492.6" cy="2245.6" r="5.1" fill="#f47f7d"/>
<circle cx="1522.4" cy="2300.3" r="5.1" fill="#000"/>
<circle cx="1522.4" cy="2314.8" r="5.1" fill="#000"/>
<circle cx="1522.4" cy="2334.7" r="5.1" fill="#000"/>
<circle cx="1552" cy="2202.7" r="5.1" fill="#0a5596"/>
<circle cx="1552" cy="2223.3" r="5.1" fill="#0a5596"/>
<circle cx="1552" cy="2248" r="5.1" fill="#0a5596"/>
<circle cx="1577.1" cy="2263.7" r="5.1" fill="#8585f7"/>
<circle cx="1586.4" cy="2274.2" r="5.1" fill="#8585f7"/>
<circle cx="1577.1" cy="2279.1" r="5.1" fill="#8585f7"/>
<circle cx="1631" cy="2156.5" r="5.1" fill="#f47f7d"/>
<circle cx="1631" cy="2187.5" r="5.1" fill="#f47f7d"/>
<circle cx="1631" cy="2204.6" r="5.1" fill="#f47f7d"/>
<circle cx="1660.3" cy="2272.6" r="5.1" fill="#000"/>
<circle cx="1660.3" cy="2285.5" r="5.1" fill="#000"/>
<circle cx="1660.3" cy="2315.5" r="5.1" fill="#000"/>
<circle cx="1690.1" cy="2170.6" r="5.1" fill="#0a5596"/>
<circle cx="1684.9" cy="2189.3" r="5.1" fill="#0a5596"/>
<circle cx="1694.8" cy="2188.2" r="5.1" fill="#0a5596"/>
<circle cx="1714.2" cy="2237.4" r="5.1" fill="#8585f7"/>
<circle cx="1724.3" cy="2237.4" r="5.1" fill="#8585f7"/>
<circle cx="1719.4" cy="2253.8" r="5.1" fill="#8585f7"/>
<path d="M1491.5 2211.6 L1491.5 2207.6 L1522.4 2207.6 L1522.4 2284.3" fill="none" stroke="#000" stroke-width="1.2"/>
<text transform="translate(1515.6 2198.7) rotate(-90)" font-size="22.5"><tspan font-style="italic">P</tspan> &lt;0.0001</text>
<path d="M1551.3 2191.2 L1551.3 2188.9 L1581.7 2188.9 L1581.7 2252.6" fill="none" stroke="#000" stroke-width="1.2"/>
<text transform="translate(1574.7 2177.6) rotate(-90)" font-size="22.5"><tspan font-style="italic">P</tspan> =0.0146</text>
<path d="M1631 2137.7 L1631 2134.7 L1660.3 2134.7 L1660.3 2253.8" fill="none" stroke="#000" stroke-width="1.2"/>
<text transform="translate(1652.1 2124.8) rotate(-90)" font-size="22.5"><tspan font-style="italic">P</tspan> &lt;0.0001</text>
<path d="M1690.1 2154.2 L1690.1 2152.5 L1719.4 2152.5 L1719.4 2232.7" fill="none" stroke="#000" stroke-width="1.2"/>
<text transform="translate(1712.4 2137.7) rotate(-90)" font-size="22.5"><tspan font-style="italic">P</tspan> =0.0022</text>
<text x="1606.3" y="1960.6" font-size="36.9" text-anchor="middle">Fumarate (m+4)</text>
<circle cx="1796.6" cy="1985.6" r="5.3" fill="#f47f7d"/>
<circle cx="1796.6" cy="2014.2" r="5.3" fill="#000"/>
<circle cx="1796.6" cy="2042.5" r="5.3" fill="#0a5596"/>
<circle cx="1796.6" cy="2072.5" r="5.3" fill="#8585f7"/>
<text x="1820.3" y="1991.3" font-size="16.5">Control <tspan font-style="italic">gControl</tspan></text>
<text x="1820.3" y="2019.8" font-size="16.5">Control <tspan font-style="italic">gStk11</tspan></text>
<text x="1820.3" y="2049" font-size="16.5"><tspan font-style="italic">Opa1</tspan><tspan dy="-6" font-size="12.4">CD4Cre</tspan><tspan dy="6" font-style="italic"> gControl</tspan></text>
<text x="1820.3" y="2079.6" font-size="16.5">OPA1<tspan dy="-6" font-size="12.4">CD4Cre</tspan><tspan dy="6" font-style="italic"> gStk11</tspan></text>
</g>
</svg>
</body></html>
